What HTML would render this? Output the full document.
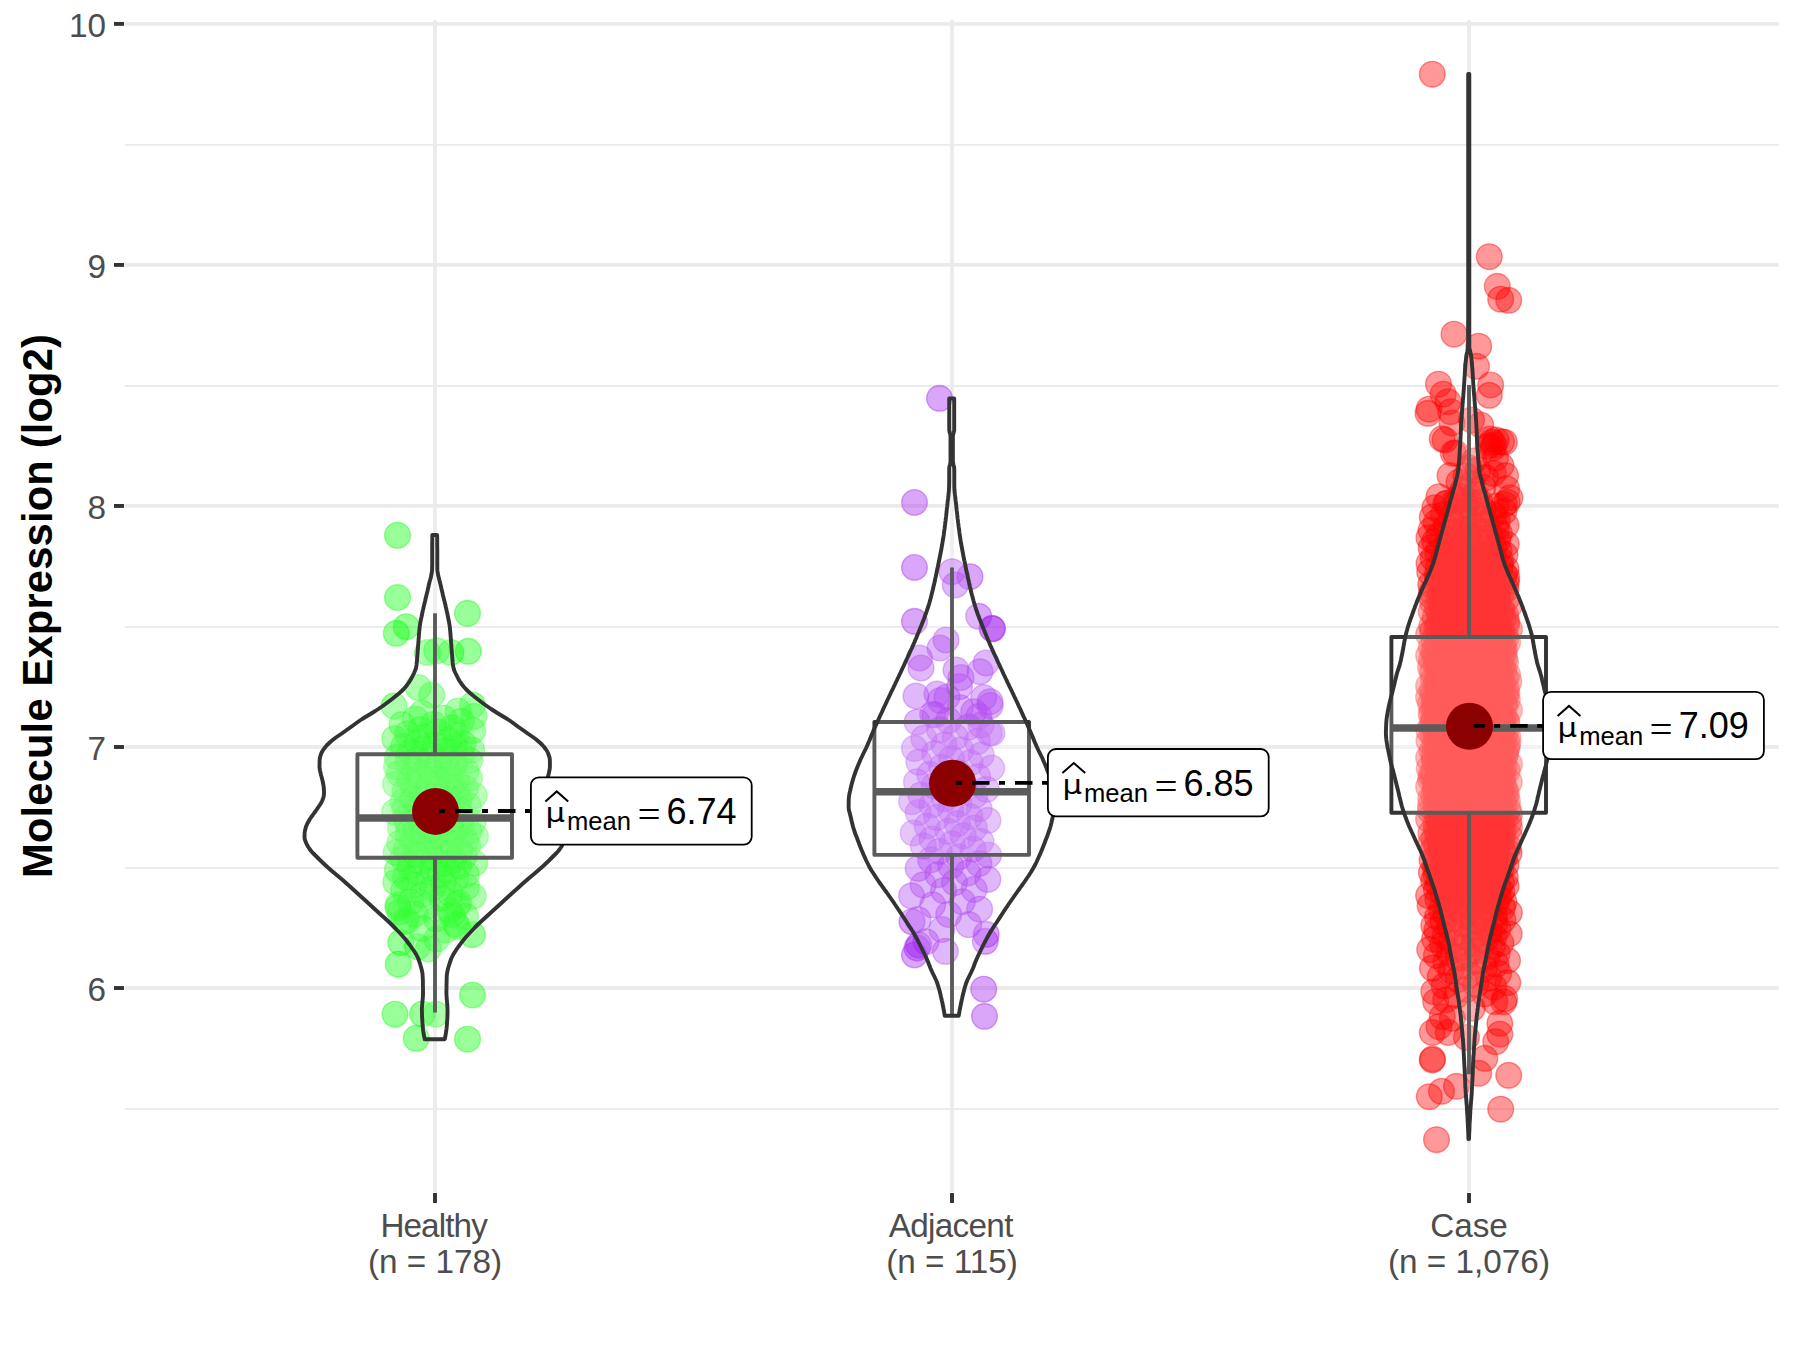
<!DOCTYPE html>
<html lang="en"><head><meta charset="utf-8"><title>Molecule Expression (log2)</title>
<style>html,body{margin:0;padding:0;background:#fff}body{width:1800px;height:1350px;overflow:hidden}svg{display:block}text{font-family:"Liberation Sans",Arial,sans-serif}.ax{font-size:33.3px;fill:#4d4d4d}.lb{font-size:36px;fill:#000}.sub{font-size:25.6px;fill:#000}.mu{font-size:26.7px;fill:#000;font-family:"DejaVu Sans","Liberation Sans",sans-serif}.eq{font-size:41px;fill:#000;font-family:"Liberation Serif",serif}.ttl{font-size:41.7px;font-weight:bold;fill:#000}.g0{fill:#00ff00;stroke:#00ff00}.g1{fill:#a020f0;stroke:#a020f0}.g2{fill:#ff0000;stroke:#ff0000}.pt circle{fill-opacity:.4;stroke-opacity:.4;stroke-width:1.4}</style></head><body>
<svg width="1800" height="1350" viewBox="0 0 1800 1350">
<rect width="1800" height="1350" fill="#fff"/>
<g stroke="#ebebeb" fill="none">
<line x1="124.7" x2="1778.8" y1="1109.04" y2="1109.04" stroke-width="1.9"/>
<line x1="124.7" x2="1778.8" y1="868.00" y2="868.00" stroke-width="1.9"/>
<line x1="124.7" x2="1778.8" y1="626.98" y2="626.98" stroke-width="1.9"/>
<line x1="124.7" x2="1778.8" y1="385.94" y2="385.94" stroke-width="1.9"/>
<line x1="124.7" x2="1778.8" y1="144.91" y2="144.91" stroke-width="1.9"/>
<line x1="124.7" x2="1778.8" y1="988.02" y2="988.02" stroke-width="3.8"/>
<line x1="124.7" x2="1778.8" y1="746.99" y2="746.99" stroke-width="3.8"/>
<line x1="124.7" x2="1778.8" y1="505.96" y2="505.96" stroke-width="3.8"/>
<line x1="124.7" x2="1778.8" y1="264.93" y2="264.93" stroke-width="3.8"/>
<line x1="124.7" x2="1778.8" y1="23.90" y2="23.90" stroke-width="3.8"/>
<line x1="435.0" x2="435.0" y1="20.0" y2="1192.0" stroke-width="3.8"/>
<line x1="952.0" x2="952.0" y1="20.0" y2="1192.0" stroke-width="3.8"/>
<line x1="1469.0" x2="1469.0" y1="20.0" y2="1192.0" stroke-width="3.8"/>
</g>
<g class="pt g0">
<circle cx="458.2" cy="809.1" r="12.85"/><circle cx="458.8" cy="902.9" r="12.85"/><circle cx="410.8" cy="752.0" r="12.85"/><circle cx="417.7" cy="759.2" r="12.85"/><circle cx="407.9" cy="762.5" r="12.85"/><circle cx="413.9" cy="769.0" r="12.85"/><circle cx="409.7" cy="780.5" r="12.85"/><circle cx="433.5" cy="857.6" r="12.85"/><circle cx="408.2" cy="833.4" r="12.85"/><circle cx="424.8" cy="793.2" r="12.85"/><circle cx="457.5" cy="926.4" r="12.85"/><circle cx="428.0" cy="766.0" r="12.85"/><circle cx="443.7" cy="718.2" r="12.85"/><circle cx="413.8" cy="884.8" r="12.85"/><circle cx="459.2" cy="799.2" r="12.85"/><circle cx="405.5" cy="877.2" r="12.85"/><circle cx="407.6" cy="733.7" r="12.85"/><circle cx="405.3" cy="817.8" r="12.85"/><circle cx="420.8" cy="729.6" r="12.85"/><circle cx="431.5" cy="841.4" r="12.85"/><circle cx="395.5" cy="784.2" r="12.85"/><circle cx="462.5" cy="816.3" r="12.85"/><circle cx="446.0" cy="854.0" r="12.85"/><circle cx="461.2" cy="825.0" r="12.85"/><circle cx="421.9" cy="713.4" r="12.85"/><circle cx="430.1" cy="771.8" r="12.85"/><circle cx="426.1" cy="906.4" r="12.85"/><circle cx="456.6" cy="792.1" r="12.85"/><circle cx="403.7" cy="890.4" r="12.85"/><circle cx="464.1" cy="856.2" r="12.85"/><circle cx="468.3" cy="805.7" r="12.85"/><circle cx="438.3" cy="779.1" r="12.85"/><circle cx="406.7" cy="921.4" r="12.85"/><circle cx="422.1" cy="835.5" r="12.85"/><circle cx="469.8" cy="760.5" r="12.85"/><circle cx="413.7" cy="786.7" r="12.85"/><circle cx="396.1" cy="852.4" r="12.85"/><circle cx="420.7" cy="861.6" r="12.85"/><circle cx="474.4" cy="795.5" r="12.85"/><circle cx="446.9" cy="768.2" r="12.85"/><circle cx="432.5" cy="888.3" r="12.85"/><circle cx="441.8" cy="823.1" r="12.85"/><circle cx="397.3" cy="757.1" r="12.85"/><circle cx="469.5" cy="778.0" r="12.85"/><circle cx="399.8" cy="843.1" r="12.85"/><circle cx="416.6" cy="804.0" r="12.85"/><circle cx="416.5" cy="872.3" r="12.85"/><circle cx="449.4" cy="910.2" r="12.85"/><circle cx="416.6" cy="814.4" r="12.85"/><circle cx="472.8" cy="730.7" r="12.85"/><circle cx="428.4" cy="811.4" r="12.85"/><circle cx="468.9" cy="831.4" r="12.85"/><circle cx="449.9" cy="893.5" r="12.85"/><circle cx="428.9" cy="782.9" r="12.85"/><circle cx="430.9" cy="755.2" r="12.85"/><circle cx="454.1" cy="764.0" r="12.85"/><circle cx="410.7" cy="901.8" r="12.85"/><circle cx="441.1" cy="796.3" r="12.85"/><circle cx="473.1" cy="896.2" r="12.85"/><circle cx="422.6" cy="821.2" r="12.85"/><circle cx="456.4" cy="735.2" r="12.85"/><circle cx="449.0" cy="775.4" r="12.85"/><circle cx="466.4" cy="886.8" r="12.85"/><circle cx="442.5" cy="898.2" r="12.85"/><circle cx="422.8" cy="894.7" r="12.85"/><circle cx="402.0" cy="724.6" r="12.85"/><circle cx="442.3" cy="838.6" r="12.85"/><circle cx="432.9" cy="800.6" r="12.85"/><circle cx="433.6" cy="724.3" r="12.85"/><circle cx="447.9" cy="813.6" r="12.85"/><circle cx="397.4" cy="869.9" r="12.85"/><circle cx="432.0" cy="868.4" r="12.85"/><circle cx="444.6" cy="750.7" r="12.85"/><circle cx="422.0" cy="928.4" r="12.85"/><circle cx="423.7" cy="748.1" r="12.85"/><circle cx="416.6" cy="830.5" r="12.85"/><circle cx="412.5" cy="798.4" r="12.85"/><circle cx="394.7" cy="738.7" r="12.85"/><circle cx="472.3" cy="934.7" r="12.85"/><circle cx="403.0" cy="802.0" r="12.85"/><circle cx="461.7" cy="754.0" r="12.85"/><circle cx="442.7" cy="863.4" r="12.85"/><circle cx="447.3" cy="870.4" r="12.85"/><circle cx="474.0" cy="716.3" r="12.85"/><circle cx="398.0" cy="907.7" r="12.85"/><circle cx="428.0" cy="880.2" r="12.85"/><circle cx="443.2" cy="883.1" r="12.85"/><circle cx="405.0" cy="790.8" r="12.85"/><circle cx="406.4" cy="849.2" r="12.85"/><circle cx="435.2" cy="744.6" r="12.85"/><circle cx="421.3" cy="845.0" r="12.85"/><circle cx="448.5" cy="786.1" r="12.85"/><circle cx="463.1" cy="743.5" r="12.85"/><circle cx="439.2" cy="761.5" r="12.85"/><circle cx="458.8" cy="866.0" r="12.85"/><circle cx="448.8" cy="740.2" r="12.85"/><circle cx="438.3" cy="789.0" r="12.85"/><circle cx="446.5" cy="758.1" r="12.85"/><circle cx="394.6" cy="811.8" r="12.85"/><circle cx="415.4" cy="719.1" r="12.85"/><circle cx="474.6" cy="863.1" r="12.85"/><circle cx="452.3" cy="803.3" r="12.85"/><circle cx="456.4" cy="781.0" r="12.85"/><circle cx="453.8" cy="859.9" r="12.85"/><circle cx="424.6" cy="737.1" r="12.85"/><circle cx="465.7" cy="840.5" r="12.85"/><circle cx="435.5" cy="817.2" r="12.85"/><circle cx="466.1" cy="874.4" r="12.85"/><circle cx="430.2" cy="827.1" r="12.85"/><circle cx="465.5" cy="916.3" r="12.85"/><circle cx="475.4" cy="836.4" r="12.85"/><circle cx="471.6" cy="750.1" r="12.85"/><circle cx="436.3" cy="918.8" r="12.85"/><circle cx="451.0" cy="843.4" r="12.85"/><circle cx="438.8" cy="847.0" r="12.85"/><circle cx="472.9" cy="822.3" r="12.85"/><circle cx="438.9" cy="832.4" r="12.85"/><circle cx="453.7" cy="834.6" r="12.85"/><circle cx="419.6" cy="776.2" r="12.85"/><circle cx="437.3" cy="806.7" r="12.85"/><circle cx="459.5" cy="850.1" r="12.85"/><circle cx="429.7" cy="851.0" r="12.85"/><circle cx="413.5" cy="839.3" r="12.85"/><circle cx="400.5" cy="827.8" r="12.85"/><circle cx="410.2" cy="865.9" r="12.85"/><circle cx="461.2" cy="721.3" r="12.85"/><circle cx="399.2" cy="773.3" r="12.85"/><circle cx="416.1" cy="854.6" r="12.85"/><circle cx="403.6" cy="746.5" r="12.85"/><circle cx="455.7" cy="879.1" r="12.85"/><circle cx="417.5" cy="742.3" r="12.85"/><circle cx="407.9" cy="823.8" r="12.85"/><circle cx="465.4" cy="788.4" r="12.85"/><circle cx="466.2" cy="771.4" r="12.85"/><circle cx="467.9" cy="845.7" r="12.85"/><circle cx="438.1" cy="732.1" r="12.85"/><circle cx="451.2" cy="819.9" r="12.85"/><circle cx="454.2" cy="746.8" r="12.85"/><circle cx="450.3" cy="828.5" r="12.85"/><circle cx="452.2" cy="727.9" r="12.85"/><circle cx="396.5" cy="766.6" r="12.85"/><circle cx="415.1" cy="913.9" r="12.85"/><circle cx="405.2" cy="808.2" r="12.85"/><circle cx="395.8" cy="882.2" r="12.85"/><circle cx="440.2" cy="874.7" r="12.85"/><circle cx="403.1" cy="858.4" r="12.85"/><circle cx="397.5" cy="535.3" r="12.85"/><circle cx="397.5" cy="597.5" r="12.85"/><circle cx="467.5" cy="613.3" r="12.85"/><circle cx="406.3" cy="626.7" r="12.85"/><circle cx="396.3" cy="633.3" r="12.85"/><circle cx="427.5" cy="652.5" r="12.85"/><circle cx="436.7" cy="650.8" r="12.85"/><circle cx="450.8" cy="652.5" r="12.85"/><circle cx="468.3" cy="651.3" r="12.85"/><circle cx="418.3" cy="687.5" r="12.85"/><circle cx="431.7" cy="695.0" r="12.85"/><circle cx="394.0" cy="706.0" r="12.85"/><circle cx="472.5" cy="705.0" r="12.85"/><circle cx="458.0" cy="711.0" r="12.85"/><circle cx="398.3" cy="964.2" r="12.85"/><circle cx="472.5" cy="995.0" r="12.85"/><circle cx="395.0" cy="1014.2" r="12.85"/><circle cx="422.5" cy="1014.0" r="12.85"/><circle cx="435.8" cy="1014.2" r="12.85"/><circle cx="416.3" cy="1038.3" r="12.85"/><circle cx="467.5" cy="1039.2" r="12.85"/><circle cx="400.8" cy="942.5" r="12.85"/><circle cx="417.5" cy="946.7" r="12.85"/><circle cx="428.3" cy="949.0" r="12.85"/><circle cx="436.7" cy="939.0" r="12.85"/><circle cx="455.8" cy="924.0" r="12.85"/><circle cx="398.0" cy="905.0" r="12.85"/><circle cx="400.0" cy="912.0" r="12.85"/><circle cx="404.0" cy="921.0" r="12.85"/><circle cx="452.0" cy="915.0" r="12.85"/><circle cx="457.0" cy="905.0" r="12.85"/><circle cx="446.0" cy="930.0" r="12.85"/>
</g>
<g class="pt g1">
<circle cx="989.3" cy="732.9" r="12.85"/><circle cx="958.8" cy="856.8" r="12.85"/><circle cx="960.8" cy="749.9" r="12.85"/><circle cx="920.8" cy="795.1" r="12.85"/><circle cx="979.6" cy="909.2" r="12.85"/><circle cx="978.8" cy="716.4" r="12.85"/><circle cx="968.3" cy="727.1" r="12.85"/><circle cx="932.7" cy="714.3" r="12.85"/><circle cx="957.3" cy="823.6" r="12.85"/><circle cx="958.7" cy="773.0" r="12.85"/><circle cx="914.5" cy="748.4" r="12.85"/><circle cx="948.5" cy="720.6" r="12.85"/><circle cx="911.6" cy="801.6" r="12.85"/><circle cx="948.1" cy="831.3" r="12.85"/><circle cx="964.3" cy="784.9" r="12.85"/><circle cx="946.3" cy="779.9" r="12.85"/><circle cx="974.1" cy="889.4" r="12.85"/><circle cx="952.2" cy="843.8" r="12.85"/><circle cx="980.9" cy="841.3" r="12.85"/><circle cx="977.7" cy="776.7" r="12.85"/><circle cx="967.9" cy="872.9" r="12.85"/><circle cx="950.7" cy="865.9" r="12.85"/><circle cx="934.2" cy="785.8" r="12.85"/><circle cx="941.7" cy="767.2" r="12.85"/><circle cx="950.7" cy="810.2" r="12.85"/><circle cx="954.5" cy="882.6" r="12.85"/><circle cx="987.9" cy="820.4" r="12.85"/><circle cx="948.7" cy="914.5" r="12.85"/><circle cx="931.9" cy="805.0" r="12.85"/><circle cx="918.1" cy="919.6" r="12.85"/><circle cx="917.1" cy="722.2" r="12.85"/><circle cx="981.3" cy="755.1" r="12.85"/><circle cx="951.5" cy="758.8" r="12.85"/><circle cx="932.1" cy="839.0" r="12.85"/><circle cx="986.2" cy="934.4" r="12.85"/><circle cx="973.0" cy="849.0" r="12.85"/><circle cx="986.4" cy="789.4" r="12.85"/><circle cx="969.7" cy="816.6" r="12.85"/><circle cx="977.4" cy="741.4" r="12.85"/><circle cx="979.2" cy="808.7" r="12.85"/><circle cx="929.6" cy="774.3" r="12.85"/><circle cx="940.3" cy="700.5" r="12.85"/><circle cx="923.8" cy="738.4" r="12.85"/><circle cx="959.0" cy="803.8" r="12.85"/><circle cx="930.7" cy="859.9" r="12.85"/><circle cx="974.4" cy="828.1" r="12.85"/><circle cx="918.9" cy="762.1" r="12.85"/><circle cx="974.8" cy="795.4" r="12.85"/><circle cx="927.1" cy="826.0" r="12.85"/><circle cx="918.2" cy="868.4" r="12.85"/><circle cx="916.5" cy="781.9" r="12.85"/><circle cx="956.0" cy="791.8" r="12.85"/><circle cx="913.2" cy="833.0" r="12.85"/><circle cx="970.2" cy="762.9" r="12.85"/><circle cx="963.3" cy="835.9" r="12.85"/><circle cx="937.9" cy="874.7" r="12.85"/><circle cx="941.9" cy="929.5" r="12.85"/><circle cx="955.3" cy="737.0" r="12.85"/><circle cx="934.7" cy="753.6" r="12.85"/><circle cx="911.6" cy="895.8" r="12.85"/><circle cx="939.0" cy="851.3" r="12.85"/><circle cx="936.6" cy="817.4" r="12.85"/><circle cx="978.9" cy="863.6" r="12.85"/><circle cx="943.6" cy="890.6" r="12.85"/><circle cx="939.7" cy="730.0" r="12.85"/><circle cx="923.4" cy="845.9" r="12.85"/><circle cx="932.7" cy="904.8" r="12.85"/><circle cx="918.2" cy="812.5" r="12.85"/><circle cx="944.5" cy="798.8" r="12.85"/><circle cx="991.7" cy="768.0" r="12.85"/><circle cx="990.2" cy="705.6" r="12.85"/><circle cx="923.1" cy="884.9" r="12.85"/><circle cx="988.6" cy="855.0" r="12.85"/><circle cx="962.3" cy="901.7" r="12.85"/><circle cx="987.8" cy="879.4" r="12.85"/><circle cx="960.2" cy="707.7" r="12.85"/><circle cx="968.7" cy="924.6" r="12.85"/><circle cx="944.2" cy="745.1" r="12.85"/><circle cx="939.5" cy="398.3" r="12.85"/><circle cx="914.5" cy="502.5" r="12.85"/><circle cx="914.5" cy="567.5" r="12.85"/><circle cx="952.0" cy="571.7" r="12.85"/><circle cx="970.0" cy="576.7" r="12.85"/><circle cx="955.3" cy="585.0" r="12.85"/><circle cx="914.5" cy="621.3" r="12.85"/><circle cx="978.7" cy="616.3" r="12.85"/><circle cx="992.0" cy="628.3" r="12.85"/><circle cx="992.5" cy="628.8" r="12.85"/><circle cx="946.0" cy="640.0" r="12.85"/><circle cx="940.0" cy="648.0" r="12.85"/><circle cx="919.5" cy="658.0" r="12.85"/><circle cx="921.0" cy="668.0" r="12.85"/><circle cx="956.0" cy="670.0" r="12.85"/><circle cx="961.0" cy="677.5" r="12.85"/><circle cx="959.5" cy="686.7" r="12.85"/><circle cx="980.0" cy="671.7" r="12.85"/><circle cx="986.0" cy="663.0" r="12.85"/><circle cx="916.0" cy="696.0" r="12.85"/><circle cx="937.0" cy="694.0" r="12.85"/><circle cx="947.0" cy="697.0" r="12.85"/><circle cx="983.7" cy="697.5" r="12.85"/><circle cx="990.0" cy="701.7" r="12.85"/><circle cx="973.7" cy="711.7" r="12.85"/><circle cx="935.0" cy="715.0" r="12.85"/><circle cx="981.0" cy="725.0" r="12.85"/><circle cx="992.0" cy="733.0" r="12.85"/><circle cx="983.7" cy="989.2" r="12.85"/><circle cx="984.5" cy="1016.3" r="12.85"/><circle cx="945.3" cy="951.3" r="12.85"/><circle cx="985.3" cy="941.3" r="12.85"/><circle cx="914.5" cy="955.0" r="12.85"/><circle cx="917.0" cy="948.0" r="12.85"/><circle cx="918.7" cy="945.0" r="12.85"/><circle cx="926.0" cy="941.7" r="12.85"/><circle cx="912.0" cy="921.7" r="12.85"/>
</g>
<g class="pt g2">
<circle cx="1435.5" cy="791.1" r="12.85"/><circle cx="1486.7" cy="732.6" r="12.85"/><circle cx="1452.8" cy="684.1" r="12.85"/><circle cx="1487.2" cy="845.5" r="12.85"/><circle cx="1484.5" cy="940.1" r="12.85"/><circle cx="1463.2" cy="947.7" r="12.85"/><circle cx="1477.9" cy="682.2" r="12.85"/><circle cx="1487.9" cy="796.0" r="12.85"/><circle cx="1458.2" cy="500.7" r="12.85"/><circle cx="1482.6" cy="724.8" r="12.85"/><circle cx="1456.5" cy="720.2" r="12.85"/><circle cx="1505.6" cy="615.2" r="12.85"/><circle cx="1464.5" cy="832.9" r="12.85"/><circle cx="1497.9" cy="928.5" r="12.85"/><circle cx="1460.0" cy="753.2" r="12.85"/><circle cx="1445.1" cy="936.1" r="12.85"/><circle cx="1442.6" cy="733.7" r="12.85"/><circle cx="1453.0" cy="825.2" r="12.85"/><circle cx="1442.3" cy="600.5" r="12.85"/><circle cx="1439.9" cy="841.1" r="12.85"/><circle cx="1476.9" cy="503.0" r="12.85"/><circle cx="1439.2" cy="774.0" r="12.85"/><circle cx="1442.1" cy="673.7" r="12.85"/><circle cx="1460.1" cy="911.6" r="12.85"/><circle cx="1451.5" cy="739.0" r="12.85"/><circle cx="1449.7" cy="718.7" r="12.85"/><circle cx="1496.1" cy="607.1" r="12.85"/><circle cx="1445.8" cy="731.3" r="12.85"/><circle cx="1461.0" cy="674.5" r="12.85"/><circle cx="1444.6" cy="797.4" r="12.85"/><circle cx="1468.9" cy="869.8" r="12.85"/><circle cx="1437.2" cy="742.3" r="12.85"/><circle cx="1456.0" cy="891.3" r="12.85"/><circle cx="1467.5" cy="954.6" r="12.85"/><circle cx="1509.1" cy="853.1" r="12.85"/><circle cx="1458.8" cy="801.0" r="12.85"/><circle cx="1479.9" cy="791.6" r="12.85"/><circle cx="1430.5" cy="667.5" r="12.85"/><circle cx="1470.5" cy="702.4" r="12.85"/><circle cx="1439.1" cy="598.1" r="12.85"/><circle cx="1459.8" cy="576.7" r="12.85"/><circle cx="1500.9" cy="943.1" r="12.85"/><circle cx="1456.0" cy="932.7" r="12.85"/><circle cx="1441.5" cy="778.6" r="12.85"/><circle cx="1492.8" cy="756.8" r="12.85"/><circle cx="1502.0" cy="698.1" r="12.85"/><circle cx="1501.8" cy="780.6" r="12.85"/><circle cx="1489.0" cy="931.7" r="12.85"/><circle cx="1451.1" cy="970.6" r="12.85"/><circle cx="1497.9" cy="540.5" r="12.85"/><circle cx="1448.3" cy="802.2" r="12.85"/><circle cx="1468.3" cy="787.9" r="12.85"/><circle cx="1498.0" cy="838.2" r="12.85"/><circle cx="1506.1" cy="885.9" r="12.85"/><circle cx="1503.5" cy="785.0" r="12.85"/><circle cx="1504.8" cy="706.4" r="12.85"/><circle cx="1433.6" cy="652.2" r="12.85"/><circle cx="1494.1" cy="667.0" r="12.85"/><circle cx="1448.5" cy="721.2" r="12.85"/><circle cx="1485.0" cy="863.5" r="12.85"/><circle cx="1455.6" cy="629.1" r="12.85"/><circle cx="1485.0" cy="766.2" r="12.85"/><circle cx="1462.1" cy="895.0" r="12.85"/><circle cx="1461.6" cy="690.1" r="12.85"/><circle cx="1495.4" cy="776.3" r="12.85"/><circle cx="1448.9" cy="758.3" r="12.85"/><circle cx="1506.8" cy="577.4" r="12.85"/><circle cx="1482.7" cy="751.3" r="12.85"/><circle cx="1460.7" cy="605.2" r="12.85"/><circle cx="1468.4" cy="883.5" r="12.85"/><circle cx="1465.4" cy="656.7" r="12.85"/><circle cx="1438.2" cy="884.3" r="12.85"/><circle cx="1479.4" cy="602.3" r="12.85"/><circle cx="1449.6" cy="828.6" r="12.85"/><circle cx="1458.0" cy="979.4" r="12.85"/><circle cx="1474.2" cy="887.0" r="12.85"/><circle cx="1491.3" cy="646.8" r="12.85"/><circle cx="1484.4" cy="559.1" r="12.85"/><circle cx="1477.6" cy="843.4" r="12.85"/><circle cx="1462.2" cy="634.1" r="12.85"/><circle cx="1467.1" cy="776.6" r="12.85"/><circle cx="1496.9" cy="754.4" r="12.85"/><circle cx="1449.8" cy="565.0" r="12.85"/><circle cx="1438.1" cy="709.2" r="12.85"/><circle cx="1449.4" cy="697.7" r="12.85"/><circle cx="1438.4" cy="719.7" r="12.85"/><circle cx="1440.9" cy="739.8" r="12.85"/><circle cx="1432.3" cy="516.9" r="12.85"/><circle cx="1464.6" cy="915.9" r="12.85"/><circle cx="1462.5" cy="734.3" r="12.85"/><circle cx="1491.0" cy="884.8" r="12.85"/><circle cx="1495.0" cy="922.8" r="12.85"/><circle cx="1505.1" cy="755.9" r="12.85"/><circle cx="1434.9" cy="507.7" r="12.85"/><circle cx="1494.6" cy="664.1" r="12.85"/><circle cx="1456.3" cy="770.6" r="12.85"/><circle cx="1466.8" cy="664.4" r="12.85"/><circle cx="1468.7" cy="627.6" r="12.85"/><circle cx="1456.5" cy="808.6" r="12.85"/><circle cx="1482.2" cy="660.3" r="12.85"/><circle cx="1443.2" cy="646.3" r="12.85"/><circle cx="1462.0" cy="654.8" r="12.85"/><circle cx="1505.5" cy="662.8" r="12.85"/><circle cx="1432.1" cy="860.3" r="12.85"/><circle cx="1483.9" cy="676.9" r="12.85"/><circle cx="1482.3" cy="881.1" r="12.85"/><circle cx="1451.5" cy="627.0" r="12.85"/><circle cx="1437.1" cy="575.5" r="12.85"/><circle cx="1485.9" cy="684.0" r="12.85"/><circle cx="1470.5" cy="669.1" r="12.85"/><circle cx="1488.3" cy="830.2" r="12.85"/><circle cx="1484.8" cy="644.7" r="12.85"/><circle cx="1436.4" cy="829.9" r="12.85"/><circle cx="1509.4" cy="912.7" r="12.85"/><circle cx="1483.7" cy="598.9" r="12.85"/><circle cx="1467.5" cy="741.9" r="12.85"/><circle cx="1450.4" cy="573.6" r="12.85"/><circle cx="1451.5" cy="839.8" r="12.85"/><circle cx="1445.8" cy="717.1" r="12.85"/><circle cx="1454.8" cy="722.6" r="12.85"/><circle cx="1430.5" cy="806.2" r="12.85"/><circle cx="1483.5" cy="580.8" r="12.85"/><circle cx="1439.2" cy="669.2" r="12.85"/><circle cx="1480.2" cy="849.8" r="12.85"/><circle cx="1499.3" cy="752.0" r="12.85"/><circle cx="1506.4" cy="688.8" r="12.85"/><circle cx="1495.9" cy="506.0" r="12.85"/><circle cx="1458.5" cy="685.9" r="12.85"/><circle cx="1436.5" cy="863.1" r="12.85"/><circle cx="1462.3" cy="671.6" r="12.85"/><circle cx="1470.0" cy="785.2" r="12.85"/><circle cx="1479.9" cy="811.3" r="12.85"/><circle cx="1507.5" cy="960.5" r="12.85"/><circle cx="1489.6" cy="636.9" r="12.85"/><circle cx="1481.5" cy="626.6" r="12.85"/><circle cx="1470.5" cy="909.0" r="12.85"/><circle cx="1459.7" cy="703.4" r="12.85"/><circle cx="1504.7" cy="998.6" r="12.85"/><circle cx="1432.5" cy="672.2" r="12.85"/><circle cx="1498.1" cy="812.1" r="12.85"/><circle cx="1490.3" cy="736.2" r="12.85"/><circle cx="1481.4" cy="518.7" r="12.85"/><circle cx="1486.4" cy="816.2" r="12.85"/><circle cx="1437.4" cy="608.1" r="12.85"/><circle cx="1504.7" cy="658.1" r="12.85"/><circle cx="1491.4" cy="841.9" r="12.85"/><circle cx="1453.8" cy="868.5" r="12.85"/><circle cx="1429.7" cy="572.1" r="12.85"/><circle cx="1440.9" cy="594.4" r="12.85"/><circle cx="1484.6" cy="749.0" r="12.85"/><circle cx="1438.8" cy="681.0" r="12.85"/><circle cx="1474.8" cy="737.3" r="12.85"/><circle cx="1474.7" cy="658.6" r="12.85"/><circle cx="1442.9" cy="702.9" r="12.85"/><circle cx="1437.1" cy="808.2" r="12.85"/><circle cx="1477.4" cy="620.9" r="12.85"/><circle cx="1493.7" cy="546.5" r="12.85"/><circle cx="1456.8" cy="657.7" r="12.85"/><circle cx="1428.6" cy="697.2" r="12.85"/><circle cx="1468.0" cy="541.1" r="12.85"/><circle cx="1483.3" cy="705.6" r="12.85"/><circle cx="1450.5" cy="621.7" r="12.85"/><circle cx="1474.4" cy="801.8" r="12.85"/><circle cx="1460.1" cy="642.1" r="12.85"/><circle cx="1491.2" cy="692.3" r="12.85"/><circle cx="1428.6" cy="819.2" r="12.85"/><circle cx="1432.8" cy="734.6" r="12.85"/><circle cx="1462.9" cy="607.5" r="12.85"/><circle cx="1466.2" cy="874.7" r="12.85"/><circle cx="1454.8" cy="876.5" r="12.85"/><circle cx="1479.3" cy="704.2" r="12.85"/><circle cx="1462.2" cy="790.7" r="12.85"/><circle cx="1474.8" cy="589.4" r="12.85"/><circle cx="1448.9" cy="643.2" r="12.85"/><circle cx="1474.5" cy="756.4" r="12.85"/><circle cx="1459.3" cy="707.6" r="12.85"/><circle cx="1493.9" cy="987.1" r="12.85"/><circle cx="1469.6" cy="725.6" r="12.85"/><circle cx="1429.0" cy="730.6" r="12.85"/><circle cx="1463.4" cy="880.1" r="12.85"/><circle cx="1464.8" cy="631.0" r="12.85"/><circle cx="1507.8" cy="982.6" r="12.85"/><circle cx="1448.0" cy="680.0" r="12.85"/><circle cx="1496.4" cy="528.3" r="12.85"/><circle cx="1493.7" cy="514.9" r="12.85"/><circle cx="1463.4" cy="611.3" r="12.85"/><circle cx="1443.0" cy="870.8" r="12.85"/><circle cx="1471.5" cy="834.9" r="12.85"/><circle cx="1472.5" cy="773.9" r="12.85"/><circle cx="1508.2" cy="846.8" r="12.85"/><circle cx="1489.9" cy="742.6" r="12.85"/><circle cx="1469.1" cy="574.9" r="12.85"/><circle cx="1451.7" cy="691.0" r="12.85"/><circle cx="1431.0" cy="530.3" r="12.85"/><circle cx="1481.1" cy="572.7" r="12.85"/><circle cx="1476.1" cy="865.4" r="12.85"/><circle cx="1477.7" cy="564.5" r="12.85"/><circle cx="1493.7" cy="638.6" r="12.85"/><circle cx="1472.3" cy="696.1" r="12.85"/><circle cx="1434.5" cy="939.1" r="12.85"/><circle cx="1456.6" cy="995.4" r="12.85"/><circle cx="1441.5" cy="604.2" r="12.85"/><circle cx="1469.4" cy="603.9" r="12.85"/><circle cx="1493.1" cy="556.6" r="12.85"/><circle cx="1448.7" cy="538.8" r="12.85"/><circle cx="1452.7" cy="608.8" r="12.85"/><circle cx="1466.2" cy="651.9" r="12.85"/><circle cx="1445.9" cy="527.6" r="12.85"/><circle cx="1442.5" cy="713.4" r="12.85"/><circle cx="1444.2" cy="561.7" r="12.85"/><circle cx="1472.7" cy="666.0" r="12.85"/><circle cx="1432.4" cy="968.1" r="12.85"/><circle cx="1466.0" cy="758.9" r="12.85"/><circle cx="1500.5" cy="787.8" r="12.85"/><circle cx="1495.8" cy="622.0" r="12.85"/><circle cx="1432.7" cy="631.3" r="12.85"/><circle cx="1432.2" cy="690.5" r="12.85"/><circle cx="1482.8" cy="784.2" r="12.85"/><circle cx="1489.3" cy="688.2" r="12.85"/><circle cx="1484.3" cy="868.0" r="12.85"/><circle cx="1479.3" cy="612.3" r="12.85"/><circle cx="1457.0" cy="726.6" r="12.85"/><circle cx="1509.4" cy="629.2" r="12.85"/><circle cx="1472.6" cy="739.6" r="12.85"/><circle cx="1461.6" cy="667.3" r="12.85"/><circle cx="1507.4" cy="801.4" r="12.85"/><circle cx="1430.1" cy="905.8" r="12.85"/><circle cx="1505.3" cy="796.8" r="12.85"/><circle cx="1449.0" cy="854.3" r="12.85"/><circle cx="1462.8" cy="595.1" r="12.85"/><circle cx="1509.4" cy="813.9" r="12.85"/><circle cx="1493.9" cy="936.8" r="12.85"/><circle cx="1451.3" cy="612.7" r="12.85"/><circle cx="1449.0" cy="887.7" r="12.85"/><circle cx="1488.7" cy="899.8" r="12.85"/><circle cx="1483.0" cy="631.7" r="12.85"/><circle cx="1490.2" cy="535.7" r="12.85"/><circle cx="1497.0" cy="790.5" r="12.85"/><circle cx="1459.2" cy="798.2" r="12.85"/><circle cx="1460.7" cy="730.3" r="12.85"/><circle cx="1480.6" cy="652.5" r="12.85"/><circle cx="1497.6" cy="597.2" r="12.85"/><circle cx="1428.6" cy="655.5" r="12.85"/><circle cx="1439.5" cy="613.7" r="12.85"/><circle cx="1465.4" cy="721.8" r="12.85"/><circle cx="1436.1" cy="875.4" r="12.85"/><circle cx="1472.3" cy="851.0" r="12.85"/><circle cx="1496.0" cy="964.3" r="12.85"/><circle cx="1468.2" cy="765.6" r="12.85"/><circle cx="1438.2" cy="692.0" r="12.85"/><circle cx="1479.2" cy="837.4" r="12.85"/><circle cx="1488.4" cy="910.7" r="12.85"/><circle cx="1429.0" cy="740.9" r="12.85"/><circle cx="1486.9" cy="856.4" r="12.85"/><circle cx="1473.2" cy="717.0" r="12.85"/><circle cx="1480.0" cy="734.9" r="12.85"/><circle cx="1507.8" cy="736.9" r="12.85"/><circle cx="1485.1" cy="664.9" r="12.85"/><circle cx="1490.6" cy="786.1" r="12.85"/><circle cx="1444.8" cy="706.7" r="12.85"/><circle cx="1477.0" cy="809.4" r="12.85"/><circle cx="1443.4" cy="866.1" r="12.85"/><circle cx="1502.6" cy="719.0" r="12.85"/><circle cx="1496.1" cy="848.3" r="12.85"/><circle cx="1502.8" cy="760.2" r="12.85"/><circle cx="1444.2" cy="985.8" r="12.85"/><circle cx="1506.0" cy="864.7" r="12.85"/><circle cx="1506.3" cy="544.2" r="12.85"/><circle cx="1472.2" cy="661.6" r="12.85"/><circle cx="1502.4" cy="799.5" r="12.85"/><circle cx="1465.7" cy="597.5" r="12.85"/><circle cx="1450.4" cy="635.1" r="12.85"/><circle cx="1481.7" cy="824.8" r="12.85"/><circle cx="1435.5" cy="788.5" r="12.85"/><circle cx="1472.9" cy="678.0" r="12.85"/><circle cx="1497.4" cy="520.5" r="12.85"/><circle cx="1447.6" cy="714.9" r="12.85"/><circle cx="1451.5" cy="804.1" r="12.85"/><circle cx="1490.3" cy="709.5" r="12.85"/><circle cx="1507.8" cy="743.1" r="12.85"/><circle cx="1455.4" cy="712.4" r="12.85"/><circle cx="1432.5" cy="602.2" r="12.85"/><circle cx="1498.1" cy="802.6" r="12.85"/><circle cx="1449.4" cy="806.9" r="12.85"/><circle cx="1496.4" cy="651.5" r="12.85"/><circle cx="1434.0" cy="639.6" r="12.85"/><circle cx="1453.9" cy="745.3" r="12.85"/><circle cx="1431.1" cy="547.9" r="12.85"/><circle cx="1437.9" cy="552.1" r="12.85"/><circle cx="1464.2" cy="579.4" r="12.85"/><circle cx="1503.7" cy="729.0" r="12.85"/><circle cx="1470.6" cy="723.2" r="12.85"/><circle cx="1473.5" cy="778.0" r="12.85"/><circle cx="1507.4" cy="699.8" r="12.85"/><circle cx="1438.1" cy="567.0" r="12.85"/><circle cx="1439.3" cy="654.3" r="12.85"/><circle cx="1451.2" cy="816.7" r="12.85"/><circle cx="1477.0" cy="675.0" r="12.85"/><circle cx="1456.1" cy="836.2" r="12.85"/><circle cx="1456.9" cy="813.8" r="12.85"/><circle cx="1505.1" cy="789.4" r="12.85"/><circle cx="1452.1" cy="919.2" r="12.85"/><circle cx="1450.5" cy="708.5" r="12.85"/><circle cx="1495.9" cy="643.8" r="12.85"/><circle cx="1443.6" cy="570.3" r="12.85"/><circle cx="1457.1" cy="805.6" r="12.85"/><circle cx="1501.9" cy="609.3" r="12.85"/><circle cx="1509.4" cy="710.3" r="12.85"/><circle cx="1489.8" cy="781.5" r="12.85"/><circle cx="1501.6" cy="680.3" r="12.85"/><circle cx="1446.9" cy="656.1" r="12.85"/><circle cx="1443.4" cy="682.7" r="12.85"/><circle cx="1456.2" cy="846.0" r="12.85"/><circle cx="1477.1" cy="689.3" r="12.85"/><circle cx="1433.8" cy="838.9" r="12.85"/><circle cx="1441.9" cy="610.2" r="12.85"/><circle cx="1500.4" cy="792.0" r="12.85"/><circle cx="1506.7" cy="624.1" r="12.85"/><circle cx="1468.6" cy="676.0" r="12.85"/><circle cx="1501.0" cy="665.6" r="12.85"/><circle cx="1447.9" cy="747.7" r="12.85"/><circle cx="1468.6" cy="687.7" r="12.85"/><circle cx="1436.7" cy="930.4" r="12.85"/><circle cx="1464.0" cy="924.4" r="12.85"/><circle cx="1452.7" cy="751.6" r="12.85"/><circle cx="1490.7" cy="818.5" r="12.85"/><circle cx="1507.5" cy="674.7" r="12.85"/><circle cx="1502.1" cy="862.0" r="12.85"/><circle cx="1435.6" cy="803.3" r="12.85"/><circle cx="1500.6" cy="560.5" r="12.85"/><circle cx="1446.9" cy="754.0" r="12.85"/><circle cx="1473.0" cy="526.8" r="12.85"/><circle cx="1430.7" cy="584.7" r="12.85"/><circle cx="1495.1" cy="711.2" r="12.85"/><circle cx="1479.9" cy="764.6" r="12.85"/><circle cx="1477.9" cy="650.9" r="12.85"/><circle cx="1445.0" cy="723.4" r="12.85"/><circle cx="1496.3" cy="855.0" r="12.85"/><circle cx="1459.1" cy="662.4" r="12.85"/><circle cx="1463.4" cy="711.5" r="12.85"/><circle cx="1478.6" cy="596.2" r="12.85"/><circle cx="1444.6" cy="760.5" r="12.85"/><circle cx="1439.1" cy="685.2" r="12.85"/><circle cx="1484.6" cy="716.1" r="12.85"/><circle cx="1444.3" cy="555.9" r="12.85"/><circle cx="1505.0" cy="817.3" r="12.85"/><circle cx="1433.0" cy="557.8" r="12.85"/><circle cx="1492.1" cy="879.4" r="12.85"/><circle cx="1490.3" cy="740.0" r="12.85"/><circle cx="1449.4" cy="701.9" r="12.85"/><circle cx="1450.7" cy="725.1" r="12.85"/><circle cx="1454.5" cy="773.3" r="12.85"/><circle cx="1470.3" cy="792.6" r="12.85"/><circle cx="1443.6" cy="606.5" r="12.85"/><circle cx="1465.4" cy="571.6" r="12.85"/><circle cx="1428.9" cy="537.7" r="12.85"/><circle cx="1471.5" cy="624.5" r="12.85"/><circle cx="1456.5" cy="543.3" r="12.85"/><circle cx="1465.5" cy="738.0" r="12.85"/><circle cx="1487.5" cy="813.3" r="12.85"/><circle cx="1498.9" cy="747.9" r="12.85"/><circle cx="1458.9" cy="818.9" r="12.85"/><circle cx="1481.5" cy="548.8" r="12.85"/><circle cx="1446.5" cy="787.4" r="12.85"/><circle cx="1483.0" cy="711.9" r="12.85"/><circle cx="1430.6" cy="779.5" r="12.85"/><circle cx="1479.3" cy="639.8" r="12.85"/><circle cx="1483.8" cy="918.5" r="12.85"/><circle cx="1445.3" cy="578.6" r="12.85"/><circle cx="1497.1" cy="795.0" r="12.85"/><circle cx="1447.1" cy="799.4" r="12.85"/><circle cx="1503.6" cy="670.3" r="12.85"/><circle cx="1468.9" cy="975.1" r="12.85"/><circle cx="1438.0" cy="899.5" r="12.85"/><circle cx="1461.8" cy="761.4" r="12.85"/><circle cx="1445.8" cy="832.0" r="12.85"/><circle cx="1490.0" cy="633.7" r="12.85"/><circle cx="1505.9" cy="589.3" r="12.85"/><circle cx="1433.6" cy="694.8" r="12.85"/><circle cx="1433.2" cy="772.4" r="12.85"/><circle cx="1437.5" cy="916.9" r="12.85"/><circle cx="1455.0" cy="709.9" r="12.85"/><circle cx="1485.0" cy="906.9" r="12.85"/><circle cx="1492.4" cy="946.3" r="12.85"/><circle cx="1451.8" cy="881.8" r="12.85"/><circle cx="1434.1" cy="755.0" r="12.85"/><circle cx="1451.5" cy="819.8" r="12.85"/><circle cx="1446.2" cy="663.8" r="12.85"/><circle cx="1506.5" cy="794.0" r="12.85"/><circle cx="1438.3" cy="732.1" r="12.85"/><circle cx="1470.8" cy="673.4" r="12.85"/><circle cx="1501.4" cy="825.5" r="12.85"/><circle cx="1499.1" cy="627.5" r="12.85"/><circle cx="1463.7" cy="866.8" r="12.85"/><circle cx="1489.4" cy="770.1" r="12.85"/><circle cx="1479.2" cy="667.8" r="12.85"/><circle cx="1488.6" cy="669.8" r="12.85"/><circle cx="1483.3" cy="925.9" r="12.85"/><circle cx="1494.7" cy="858.9" r="12.85"/><circle cx="1461.0" cy="746.7" r="12.85"/><circle cx="1484.6" cy="672.4" r="12.85"/><circle cx="1484.6" cy="993.8" r="12.85"/><circle cx="1444.3" cy="670.9" r="12.85"/><circle cx="1506.4" cy="582.0" r="12.85"/><circle cx="1435.0" cy="705.4" r="12.85"/><circle cx="1480.0" cy="577.9" r="12.85"/><circle cx="1493.6" cy="783.1" r="12.85"/><circle cx="1486.0" cy="772.8" r="12.85"/><circle cx="1509.4" cy="836.7" r="12.85"/><circle cx="1488.6" cy="978.2" r="12.85"/><circle cx="1447.4" cy="615.9" r="12.85"/><circle cx="1483.0" cy="509.7" r="12.85"/><circle cx="1491.0" cy="685.5" r="12.85"/><circle cx="1504.5" cy="574.5" r="12.85"/><circle cx="1480.5" cy="741.1" r="12.85"/><circle cx="1488.3" cy="805.5" r="12.85"/><circle cx="1437.8" cy="587.5" r="12.85"/><circle cx="1472.3" cy="892.3" r="12.85"/><circle cx="1503.4" cy="645.5" r="12.85"/><circle cx="1480.8" cy="634.9" r="12.85"/><circle cx="1457.7" cy="743.0" r="12.85"/><circle cx="1466.8" cy="754.9" r="12.85"/><circle cx="1431.4" cy="872.5" r="12.85"/><circle cx="1458.8" cy="670.0" r="12.85"/><circle cx="1478.7" cy="754.0" r="12.85"/><circle cx="1491.2" cy="797.7" r="12.85"/><circle cx="1487.5" cy="587.8" r="12.85"/><circle cx="1500.6" cy="741.6" r="12.85"/><circle cx="1490.5" cy="649.7" r="12.85"/><circle cx="1437.4" cy="855.6" r="12.85"/><circle cx="1451.3" cy="850.2" r="12.85"/><circle cx="1457.5" cy="553.8" r="12.85"/><circle cx="1436.3" cy="664.7" r="12.85"/><circle cx="1466.4" cy="683.1" r="12.85"/><circle cx="1434.6" cy="761.8" r="12.85"/><circle cx="1477.4" cy="775.5" r="12.85"/><circle cx="1437.5" cy="661.9" r="12.85"/><circle cx="1454.4" cy="653.2" r="12.85"/><circle cx="1445.8" cy="962.4" r="12.85"/><circle cx="1480.6" cy="714.5" r="12.85"/><circle cx="1494.3" cy="815.1" r="12.85"/><circle cx="1437.2" cy="752.7" r="12.85"/><circle cx="1481.2" cy="728.7" r="12.85"/><circle cx="1453.5" cy="900.9" r="12.85"/><circle cx="1440.2" cy="582.8" r="12.85"/><circle cx="1495.9" cy="671.4" r="12.85"/><circle cx="1478.9" cy="819.6" r="12.85"/><circle cx="1501.7" cy="840.4" r="12.85"/><circle cx="1445.7" cy="503.7" r="12.85"/><circle cx="1437.9" cy="835.3" r="12.85"/><circle cx="1479.8" cy="710.5" r="12.85"/><circle cx="1498.1" cy="687.3" r="12.85"/><circle cx="1442.4" cy="700.2" r="12.85"/><circle cx="1485.6" cy="726.1" r="12.85"/><circle cx="1493.5" cy="733.9" r="12.85"/><circle cx="1457.7" cy="749.3" r="12.85"/><circle cx="1439.1" cy="769.8" r="12.85"/><circle cx="1466.0" cy="888.8" r="12.85"/><circle cx="1441.9" cy="847.5" r="12.85"/><circle cx="1440.1" cy="826.5" r="12.85"/><circle cx="1496.2" cy="721.2" r="12.85"/><circle cx="1453.7" cy="599.3" r="12.85"/><circle cx="1508.0" cy="809.2" r="12.85"/><circle cx="1468.6" cy="731.7" r="12.85"/><circle cx="1466.3" cy="622.2" r="12.85"/><circle cx="1436.8" cy="644.6" r="12.85"/><circle cx="1468.3" cy="719.2" r="12.85"/><circle cx="1492.3" cy="654.4" r="12.85"/><circle cx="1449.0" cy="952.3" r="12.85"/><circle cx="1433.5" cy="722.0" r="12.85"/><circle cx="1477.5" cy="757.8" r="12.85"/><circle cx="1460.1" cy="563.3" r="12.85"/><circle cx="1458.0" cy="842.4" r="12.85"/><circle cx="1471.1" cy="898.8" r="12.85"/><circle cx="1466.8" cy="937.7" r="12.85"/><circle cx="1461.3" cy="616.9" r="12.85"/><circle cx="1489.4" cy="719.8" r="12.85"/><circle cx="1440.3" cy="976.5" r="12.85"/><circle cx="1443.3" cy="818.0" r="12.85"/><circle cx="1503.5" cy="716.6" r="12.85"/><circle cx="1436.2" cy="522.6" r="12.85"/><circle cx="1431.2" cy="595.7" r="12.85"/><circle cx="1472.8" cy="512.6" r="12.85"/><circle cx="1506.5" cy="620.9" r="12.85"/><circle cx="1474.1" cy="943.5" r="12.85"/><circle cx="1509.2" cy="933.9" r="12.85"/><circle cx="1484.9" cy="690.9" r="12.85"/><circle cx="1465.7" cy="529.5" r="12.85"/><circle cx="1453.1" cy="791.7" r="12.85"/><circle cx="1498.1" cy="675.9" r="12.85"/><circle cx="1470.9" cy="826.0" r="12.85"/><circle cx="1474.3" cy="767.0" r="12.85"/><circle cx="1497.4" cy="874.2" r="12.85"/><circle cx="1493.3" cy="871.3" r="12.85"/><circle cx="1434.7" cy="728.2" r="12.85"/><circle cx="1442.8" cy="892.9" r="12.85"/><circle cx="1450.9" cy="896.7" r="12.85"/><circle cx="1459.6" cy="736.6" r="12.85"/><circle cx="1433.7" cy="776.8" r="12.85"/><circle cx="1430.7" cy="798.6" r="12.85"/><circle cx="1446.1" cy="764.8" r="12.85"/><circle cx="1484.4" cy="839.5" r="12.85"/><circle cx="1474.5" cy="831.6" r="12.85"/><circle cx="1464.0" cy="659.8" r="12.85"/><circle cx="1504.2" cy="726.6" r="12.85"/><circle cx="1474.8" cy="797.2" r="12.85"/><circle cx="1436.4" cy="889.5" r="12.85"/><circle cx="1465.1" cy="829.5" r="12.85"/><circle cx="1478.8" cy="799.1" r="12.85"/><circle cx="1489.0" cy="662.3" r="12.85"/><circle cx="1483.6" cy="779.9" r="12.85"/><circle cx="1443.3" cy="922.1" r="12.85"/><circle cx="1474.7" cy="934.5" r="12.85"/><circle cx="1450.2" cy="660.6" r="12.85"/><circle cx="1437.9" cy="765.7" r="12.85"/><circle cx="1504.0" cy="511.4" r="12.85"/><circle cx="1468.5" cy="855.4" r="12.85"/><circle cx="1462.2" cy="601.3" r="12.85"/><circle cx="1461.0" cy="547.3" r="12.85"/><circle cx="1467.4" cy="704.9" r="12.85"/><circle cx="1505.4" cy="753.5" r="12.85"/><circle cx="1452.4" cy="766.5" r="12.85"/><circle cx="1459.9" cy="779.2" r="12.85"/><circle cx="1481.2" cy="896.6" r="12.85"/><circle cx="1477.0" cy="670.7" r="12.85"/><circle cx="1478.6" cy="697.5" r="12.85"/><circle cx="1483.0" cy="718.5" r="12.85"/><circle cx="1460.6" cy="872.0" r="12.85"/><circle cx="1457.2" cy="614.7" r="12.85"/><circle cx="1435.2" cy="617.2" r="12.85"/><circle cx="1430.5" cy="811.0" r="12.85"/><circle cx="1442.7" cy="944.8" r="12.85"/><circle cx="1471.9" cy="928.9" r="12.85"/><circle cx="1472.0" cy="582.7" r="12.85"/><circle cx="1458.9" cy="757.1" r="12.85"/><circle cx="1464.5" cy="639.2" r="12.85"/><circle cx="1488.5" cy="808.4" r="12.85"/><circle cx="1497.1" cy="953.3" r="12.85"/><circle cx="1466.5" cy="506.6" r="12.85"/><circle cx="1456.5" cy="645.1" r="12.85"/><circle cx="1471.5" cy="878.0" r="12.85"/><circle cx="1441.2" cy="735.9" r="12.85"/><circle cx="1499.3" cy="668.7" r="12.85"/><circle cx="1500.5" cy="673.3" r="12.85"/><circle cx="1469.8" cy="698.4" r="12.85"/><circle cx="1430.8" cy="833.1" r="12.85"/><circle cx="1493.1" cy="583.6" r="12.85"/><circle cx="1455.8" cy="732.7" r="12.85"/><circle cx="1499.0" cy="550.3" r="12.85"/><circle cx="1428.6" cy="895.6" r="12.85"/><circle cx="1500.9" cy="869.2" r="12.85"/><circle cx="1446.1" cy="771.6" r="12.85"/><circle cx="1445.5" cy="794.7" r="12.85"/><circle cx="1466.1" cy="905.4" r="12.85"/><circle cx="1502.4" cy="778.0" r="12.85"/><circle cx="1491.2" cy="761.0" r="12.85"/><circle cx="1465.7" cy="700.9" r="12.85"/><circle cx="1505.5" cy="733.1" r="12.85"/><circle cx="1504.3" cy="857.2" r="12.85"/><circle cx="1469.8" cy="521.0" r="12.85"/><circle cx="1507.6" cy="642.6" r="12.85"/><circle cx="1491.8" cy="604.7" r="12.85"/><circle cx="1502.2" cy="769.3" r="12.85"/><circle cx="1455.8" cy="510.7" r="12.85"/><circle cx="1490.8" cy="707.1" r="12.85"/><circle cx="1472.6" cy="706.6" r="12.85"/><circle cx="1478.8" cy="720.9" r="12.85"/><circle cx="1445.7" cy="686.8" r="12.85"/><circle cx="1447.0" cy="727.4" r="12.85"/><circle cx="1464.6" cy="965.9" r="12.85"/><circle cx="1467.8" cy="643.9" r="12.85"/><circle cx="1501.6" cy="820.3" r="12.85"/><circle cx="1445.6" cy="625.0" r="12.85"/><circle cx="1438.4" cy="748.5" r="12.85"/><circle cx="1465.7" cy="769.7" r="12.85"/><circle cx="1457.5" cy="620.2" r="12.85"/><circle cx="1433.6" cy="880.4" r="12.85"/><circle cx="1457.1" cy="649.9" r="12.85"/><circle cx="1509.4" cy="764.1" r="12.85"/><circle cx="1458.9" cy="697.0" r="12.85"/><circle cx="1480.7" cy="647.7" r="12.85"/><circle cx="1474.2" cy="771.2" r="12.85"/><circle cx="1487.9" cy="851.9" r="12.85"/><circle cx="1507.3" cy="770.8" r="12.85"/><circle cx="1506.4" cy="720.5" r="12.85"/><circle cx="1449.4" cy="668.1" r="12.85"/><circle cx="1498.3" cy="579.1" r="12.85"/><circle cx="1478.6" cy="822.8" r="12.85"/><circle cx="1462.1" cy="740.4" r="12.85"/><circle cx="1432.3" cy="711.8" r="12.85"/><circle cx="1489.6" cy="562.6" r="12.85"/><circle cx="1469.2" cy="641.0" r="12.85"/><circle cx="1446.2" cy="737.3" r="12.85"/><circle cx="1492.3" cy="810.1" r="12.85"/><circle cx="1436.2" cy="683.5" r="12.85"/><circle cx="1503.0" cy="831.2" r="12.85"/><circle cx="1474.8" cy="560.7" r="12.85"/><circle cx="1478.4" cy="913.5" r="12.85"/><circle cx="1469.5" cy="820.8" r="12.85"/><circle cx="1460.7" cy="885.0" r="12.85"/><circle cx="1479.0" cy="629.9" r="12.85"/><circle cx="1443.7" cy="790.0" r="12.85"/><circle cx="1490.0" cy="614.1" r="12.85"/><circle cx="1452.2" cy="755.7" r="12.85"/><circle cx="1438.0" cy="698.6" r="12.85"/><circle cx="1498.5" cy="603.5" r="12.85"/><circle cx="1464.2" cy="838.8" r="12.85"/><circle cx="1435.2" cy="744.7" r="12.85"/><circle cx="1500.8" cy="715.1" r="12.85"/><circle cx="1476.3" cy="730.9" r="12.85"/><circle cx="1503.6" cy="804.3" r="12.85"/><circle cx="1443.5" cy="514.5" r="12.85"/><circle cx="1498.7" cy="973.4" r="12.85"/><circle cx="1500.2" cy="712.7" r="12.85"/><circle cx="1481.7" cy="608.4" r="12.85"/><circle cx="1494.0" cy="570.8" r="12.85"/><circle cx="1487.2" cy="835.9" r="12.85"/><circle cx="1501.1" cy="691.5" r="12.85"/><circle cx="1482.7" cy="623.2" r="12.85"/><circle cx="1479.6" cy="828.0" r="12.85"/><circle cx="1495.1" cy="678.4" r="12.85"/><circle cx="1506.8" cy="722.7" r="12.85"/><circle cx="1449.8" cy="926.6" r="12.85"/><circle cx="1494.0" cy="682.9" r="12.85"/><circle cx="1460.5" cy="774.7" r="12.85"/><circle cx="1461.7" cy="678.9" r="12.85"/><circle cx="1460.7" cy="852.6" r="12.85"/><circle cx="1494.2" cy="696.7" r="12.85"/><circle cx="1455.5" cy="692.6" r="12.85"/><circle cx="1462.2" cy="591.3" r="12.85"/><circle cx="1461.7" cy="584.3" r="12.85"/><circle cx="1431.8" cy="626.0" r="12.85"/><circle cx="1476.4" cy="570.1" r="12.85"/><circle cx="1431.8" cy="591.9" r="12.85"/><circle cx="1447.9" cy="596.8" r="12.85"/><circle cx="1459.4" cy="781.8" r="12.85"/><circle cx="1429.3" cy="768.2" r="12.85"/><circle cx="1445.0" cy="630.0" r="12.85"/><circle cx="1492.5" cy="659.2" r="12.85"/><circle cx="1466.5" cy="823.8" r="12.85"/><circle cx="1454.0" cy="640.3" r="12.85"/><circle cx="1492.5" cy="727.6" r="12.85"/><circle cx="1458.7" cy="864.1" r="12.85"/><circle cx="1466.8" cy="783.4" r="12.85"/><circle cx="1429.0" cy="563.4" r="12.85"/><circle cx="1471.0" cy="593.7" r="12.85"/><circle cx="1495.0" cy="625.1" r="12.85"/><circle cx="1505.5" cy="695.5" r="12.85"/><circle cx="1445.1" cy="837.7" r="12.85"/><circle cx="1485.3" cy="722.2" r="12.85"/><circle cx="1443.2" cy="666.6" r="12.85"/><circle cx="1484.1" cy="777.0" r="12.85"/><circle cx="1459.8" cy="767.9" r="12.85"/><circle cx="1487.4" cy="763.6" r="12.85"/><circle cx="1499.2" cy="762.7" r="12.85"/><circle cx="1498.5" cy="897.7" r="12.85"/><circle cx="1480.1" cy="872.9" r="12.85"/><circle cx="1433.8" cy="795.7" r="12.85"/><circle cx="1480.2" cy="708.0" r="12.85"/><circle cx="1448.0" cy="735.0" r="12.85"/><circle cx="1458.4" cy="763.7" r="12.85"/><circle cx="1500.1" cy="731.6" r="12.85"/><circle cx="1495.2" cy="832.4" r="12.85"/><circle cx="1436.0" cy="781.3" r="12.85"/><circle cx="1478.8" cy="853.9" r="12.85"/><circle cx="1438.6" cy="622.8" r="12.85"/><circle cx="1503.9" cy="901.8" r="12.85"/><circle cx="1493.0" cy="700.6" r="12.85"/><circle cx="1488.2" cy="681.1" r="12.85"/><circle cx="1478.2" cy="655.8" r="12.85"/><circle cx="1463.5" cy="848.4" r="12.85"/><circle cx="1497.1" cy="758.6" r="12.85"/><circle cx="1446.3" cy="710.7" r="12.85"/><circle cx="1468.9" cy="587.0" r="12.85"/><circle cx="1464.2" cy="815.7" r="12.85"/><circle cx="1447.6" cy="675.7" r="12.85"/><circle cx="1448.1" cy="769.0" r="12.85"/><circle cx="1486.2" cy="523.9" r="12.85"/><circle cx="1434.5" cy="541.5" r="12.85"/><circle cx="1501.0" cy="661.2" r="12.85"/><circle cx="1455.7" cy="821.9" r="12.85"/><circle cx="1434.3" cy="759.0" r="12.85"/><circle cx="1498.5" cy="737.7" r="12.85"/><circle cx="1444.5" cy="823.1" r="12.85"/><circle cx="1488.5" cy="713.5" r="12.85"/><circle cx="1465.2" cy="795.4" r="12.85"/><circle cx="1479.7" cy="787.0" r="12.85"/><circle cx="1469.5" cy="566.2" r="12.85"/><circle cx="1468.0" cy="557.1" r="12.85"/><circle cx="1473.2" cy="638.0" r="12.85"/><circle cx="1435.3" cy="867.6" r="12.85"/><circle cx="1442.7" cy="619.3" r="12.85"/><circle cx="1443.5" cy="689.4" r="12.85"/><circle cx="1503.0" cy="920.1" r="12.85"/><circle cx="1474.7" cy="646.1" r="12.85"/><circle cx="1450.7" cy="549.6" r="12.85"/><circle cx="1444.4" cy="678.1" r="12.85"/><circle cx="1456.9" cy="716.3" r="12.85"/><circle cx="1475.9" cy="733.2" r="12.85"/><circle cx="1455.8" cy="581.2" r="12.85"/><circle cx="1483.7" cy="657.4" r="12.85"/><circle cx="1428.6" cy="686.1" r="12.85"/><circle cx="1496.9" cy="630.4" r="12.85"/><circle cx="1457.8" cy="699.5" r="12.85"/><circle cx="1476.7" cy="902.7" r="12.85"/><circle cx="1437.0" cy="628.1" r="12.85"/><circle cx="1469.3" cy="807.7" r="12.85"/><circle cx="1462.1" cy="810.6" r="12.85"/><circle cx="1448.6" cy="873.5" r="12.85"/><circle cx="1433.5" cy="679.3" r="12.85"/><circle cx="1440.7" cy="793.0" r="12.85"/><circle cx="1474.7" cy="760.4" r="12.85"/><circle cx="1506.2" cy="749.5" r="12.85"/><circle cx="1471.9" cy="691.8" r="12.85"/><circle cx="1477.4" cy="789.9" r="12.85"/><circle cx="1491.3" cy="767.8" r="12.85"/><circle cx="1455.1" cy="588.7" r="12.85"/><circle cx="1456.0" cy="665.6" r="12.85"/><circle cx="1448.3" cy="843.7" r="12.85"/><circle cx="1485.9" cy="800.8" r="12.85"/><circle cx="1471.5" cy="649.0" r="12.85"/><circle cx="1433.9" cy="701.2" r="12.85"/><circle cx="1440.8" cy="813.1" r="12.85"/><circle cx="1477.7" cy="538.3" r="12.85"/><circle cx="1429.7" cy="949.6" r="12.85"/><circle cx="1454.5" cy="524.1" r="12.85"/><circle cx="1508.8" cy="681.8" r="12.85"/><circle cx="1487.7" cy="699.0" r="12.85"/><circle cx="1506.8" cy="693.0" r="12.85"/><circle cx="1442.8" cy="878.8" r="12.85"/><circle cx="1469.7" cy="804.8" r="12.85"/><circle cx="1466.1" cy="715.3" r="12.85"/><circle cx="1505.9" cy="637.5" r="12.85"/><circle cx="1452.5" cy="559.5" r="12.85"/><circle cx="1501.1" cy="593.0" r="12.85"/><circle cx="1493.1" cy="774.7" r="12.85"/><circle cx="1490.4" cy="750.4" r="12.85"/><circle cx="1450.5" cy="784.7" r="12.85"/><circle cx="1509.3" cy="782.2" r="12.85"/><circle cx="1441.3" cy="909.7" r="12.85"/><circle cx="1481.7" cy="860.7" r="12.85"/><circle cx="1471.9" cy="762.8" r="12.85"/><circle cx="1459.5" cy="750.6" r="12.85"/><circle cx="1447.3" cy="648.2" r="12.85"/><circle cx="1431.2" cy="842.8" r="12.85"/><circle cx="1437.6" cy="816.1" r="12.85"/><circle cx="1457.9" cy="713.9" r="12.85"/><circle cx="1454.5" cy="568.5" r="12.85"/><circle cx="1442.1" cy="658.8" r="12.85"/><circle cx="1440.4" cy="696.1" r="12.85"/><circle cx="1474.2" cy="961.2" r="12.85"/><circle cx="1455.1" cy="695.4" r="12.85"/><circle cx="1456.0" cy="677.2" r="12.85"/><circle cx="1476.7" cy="847.0" r="12.85"/><circle cx="1487.2" cy="628.7" r="12.85"/><circle cx="1505.3" cy="877.2" r="12.85"/><circle cx="1430.5" cy="703.8" r="12.85"/><circle cx="1497.0" cy="590.4" r="12.85"/><circle cx="1471.6" cy="684.7" r="12.85"/><circle cx="1437.8" cy="676.5" r="12.85"/><circle cx="1499.8" cy="640.4" r="12.85"/><circle cx="1479.0" cy="814.5" r="12.85"/><circle cx="1453.3" cy="811.7" r="12.85"/><circle cx="1431.5" cy="660.0" r="12.85"/><circle cx="1449.7" cy="585.7" r="12.85"/><circle cx="1435.1" cy="649.3" r="12.85"/><circle cx="1428.6" cy="786.7" r="12.85"/><circle cx="1509.4" cy="605.6" r="12.85"/><circle cx="1484.4" cy="968.6" r="12.85"/><circle cx="1443.5" cy="782.8" r="12.85"/><circle cx="1431.3" cy="611.6" r="12.85"/><circle cx="1456.7" cy="777.6" r="12.85"/><circle cx="1501.4" cy="882.5" r="12.85"/><circle cx="1494.1" cy="765.1" r="12.85"/><circle cx="1457.9" cy="688.6" r="12.85"/><circle cx="1502.7" cy="773.4" r="12.85"/><circle cx="1483.8" cy="738.7" r="12.85"/><circle cx="1469.8" cy="800.1" r="12.85"/><circle cx="1469.9" cy="619.2" r="12.85"/><circle cx="1457.6" cy="536.8" r="12.85"/><circle cx="1469.5" cy="534.1" r="12.85"/><circle cx="1442.2" cy="767.2" r="12.85"/><circle cx="1462.5" cy="786.2" r="12.85"/><circle cx="1444.0" cy="633.1" r="12.85"/><circle cx="1435.1" cy="657.0" r="12.85"/><circle cx="1434.4" cy="707.6" r="12.85"/><circle cx="1474.8" cy="699.9" r="12.85"/><circle cx="1477.5" cy="643.0" r="12.85"/><circle cx="1509.4" cy="827.6" r="12.85"/><circle cx="1458.2" cy="957.9" r="12.85"/><circle cx="1489.2" cy="619.7" r="12.85"/><circle cx="1477.7" cy="768.8" r="12.85"/><circle cx="1504.6" cy="650.3" r="12.85"/><circle cx="1495.3" cy="903.9" r="12.85"/><circle cx="1441.6" cy="638.2" r="12.85"/><circle cx="1453.3" cy="603.0" r="12.85"/><circle cx="1479.5" cy="794.2" r="12.85"/><circle cx="1502.5" cy="908.0" r="12.85"/><circle cx="1472.4" cy="745.8" r="12.85"/><circle cx="1506.1" cy="569.1" r="12.85"/><circle cx="1438.1" cy="636.3" r="12.85"/><circle cx="1483.8" cy="803.6" r="12.85"/><circle cx="1500.5" cy="635.5" r="12.85"/><circle cx="1470.8" cy="841.1" r="12.85"/><circle cx="1450.4" cy="618.2" r="12.85"/><circle cx="1459.9" cy="625.8" r="12.85"/><circle cx="1493.0" cy="746.6" r="12.85"/><circle cx="1465.5" cy="844.7" r="12.85"/><circle cx="1445.9" cy="545.8" r="12.85"/><circle cx="1443.1" cy="785.6" r="12.85"/><circle cx="1496.2" cy="601.2" r="12.85"/><circle cx="1489.8" cy="788.8" r="12.85"/><circle cx="1454.5" cy="796.5" r="12.85"/><circle cx="1466.6" cy="744.4" r="12.85"/><circle cx="1433.8" cy="718.1" r="12.85"/><circle cx="1491.9" cy="641.7" r="12.85"/><circle cx="1488.5" cy="674.3" r="12.85"/><circle cx="1471.9" cy="752.4" r="12.85"/><circle cx="1461.6" cy="647.3" r="12.85"/><circle cx="1502.1" cy="745.7" r="12.85"/><circle cx="1471.5" cy="545.4" r="12.85"/><circle cx="1477.3" cy="950.9" r="12.85"/><circle cx="1441.5" cy="851.4" r="12.85"/><circle cx="1448.7" cy="704.3" r="12.85"/><circle cx="1439.1" cy="535.1" r="12.85"/><circle cx="1490.9" cy="703.1" r="12.85"/><circle cx="1502.4" cy="618.4" r="12.85"/><circle cx="1483.9" cy="617.9" r="12.85"/><circle cx="1453.4" cy="762.4" r="12.85"/><circle cx="1428.6" cy="634.5" r="12.85"/><circle cx="1431.2" cy="647.6" r="12.85"/><circle cx="1483.7" cy="745.1" r="12.85"/><circle cx="1498.5" cy="725.2" r="12.85"/><circle cx="1483.9" cy="755.3" r="12.85"/><circle cx="1502.0" cy="684.5" r="12.85"/><circle cx="1478.2" cy="727.2" r="12.85"/><circle cx="1472.6" cy="780.8" r="12.85"/><circle cx="1444.0" cy="858.4" r="12.85"/><circle cx="1504.3" cy="739.3" r="12.85"/><circle cx="1450.8" cy="519.0" r="12.85"/><circle cx="1495.4" cy="778.7" r="12.85"/><circle cx="1478.2" cy="806.5" r="12.85"/><circle cx="1499.4" cy="533.3" r="12.85"/><circle cx="1450.7" cy="775.9" r="12.85"/><circle cx="1467.8" cy="708.9" r="12.85"/><circle cx="1462.8" cy="694.5" r="12.85"/><circle cx="1435.4" cy="738.5" r="12.85"/><circle cx="1495.6" cy="704.8" r="12.85"/><circle cx="1457.4" cy="759.7" r="12.85"/><circle cx="1483.7" cy="591.9" r="12.85"/><circle cx="1452.6" cy="834.1" r="12.85"/><circle cx="1468.2" cy="551.0" r="12.85"/><circle cx="1463.4" cy="516.4" r="12.85"/><circle cx="1459.5" cy="859.4" r="12.85"/><circle cx="1464.3" cy="717.9" r="12.85"/><circle cx="1465.5" cy="772.3" r="12.85"/><circle cx="1487.1" cy="793.3" r="12.85"/><circle cx="1441.7" cy="805.1" r="12.85"/><circle cx="1454.7" cy="830.5" r="12.85"/><circle cx="1505.0" cy="554.7" r="12.85"/><circle cx="1428.6" cy="757.6" r="12.85"/><circle cx="1453.6" cy="623.6" r="12.85"/><circle cx="1498.3" cy="735.4" r="12.85"/><circle cx="1494.9" cy="656.2" r="12.85"/><circle cx="1455.2" cy="681.6" r="12.85"/><circle cx="1454.5" cy="637.1" r="12.85"/><circle cx="1431.1" cy="714.1" r="12.85"/><circle cx="1446.7" cy="743.8" r="12.85"/><circle cx="1491.9" cy="594.5" r="12.85"/><circle cx="1484.0" cy="531.6" r="12.85"/><circle cx="1498.7" cy="708.5" r="12.85"/><circle cx="1502.0" cy="834.5" r="12.85"/><circle cx="1500.5" cy="566.0" r="12.85"/><circle cx="1451.6" cy="592.6" r="12.85"/><circle cx="1474.5" cy="743.4" r="12.85"/><circle cx="1478.0" cy="615.8" r="12.85"/><circle cx="1502.5" cy="648.6" r="12.85"/><circle cx="1451.7" cy="780.3" r="12.85"/><circle cx="1501.9" cy="891.6" r="12.85"/><circle cx="1489.3" cy="610.7" r="12.85"/><circle cx="1495.4" cy="829.0" r="12.85"/><circle cx="1499.8" cy="586.4" r="12.85"/><circle cx="1507.2" cy="502.2" r="12.85"/><circle cx="1475.7" cy="984.3" r="12.85"/><circle cx="1491.0" cy="752.8" r="12.85"/><circle cx="1445.2" cy="693.6" r="12.85"/><circle cx="1499.2" cy="694.1" r="12.85"/><circle cx="1488.9" cy="826.7" r="12.85"/><circle cx="1446.9" cy="861.0" r="12.85"/><circle cx="1475.1" cy="600.3" r="12.85"/><circle cx="1493.9" cy="744.2" r="12.85"/><circle cx="1498.4" cy="888.2" r="12.85"/><circle cx="1485.0" cy="890.4" r="12.85"/><circle cx="1499.4" cy="844.1" r="12.85"/><circle cx="1452.8" cy="705.9" r="12.85"/><circle cx="1433.8" cy="925.4" r="12.85"/><circle cx="1436.4" cy="955.4" r="12.85"/><circle cx="1484.5" cy="876.3" r="12.85"/><circle cx="1472.6" cy="632.7" r="12.85"/><circle cx="1475.7" cy="606.1" r="12.85"/><circle cx="1467.3" cy="613.5" r="12.85"/><circle cx="1454.3" cy="532.0" r="12.85"/><circle cx="1468.2" cy="812.6" r="12.85"/><circle cx="1504.5" cy="702.2" r="12.85"/><circle cx="1432.1" cy="724.4" r="12.85"/><circle cx="1506.1" cy="525.3" r="12.85"/><circle cx="1503.5" cy="653.4" r="12.85"/><circle cx="1440.3" cy="725.7" r="12.85"/><circle cx="1457.3" cy="793.5" r="12.85"/><circle cx="1470.5" cy="635.9" r="12.85"/><circle cx="1505.3" cy="677.7" r="12.85"/><circle cx="1447.2" cy="903.3" r="12.85"/><circle cx="1495.8" cy="866.6" r="12.85"/><circle cx="1502.6" cy="850.6" r="12.85"/><circle cx="1482.4" cy="585.1" r="12.85"/><circle cx="1496.2" cy="771.9" r="12.85"/><circle cx="1484.8" cy="701.6" r="12.85"/><circle cx="1472.1" cy="817.8" r="12.85"/><circle cx="1473.7" cy="749.7" r="12.85"/><circle cx="1479.8" cy="833.7" r="12.85"/><circle cx="1493.8" cy="616.5" r="12.85"/><circle cx="1456.5" cy="827.1" r="12.85"/><circle cx="1435.0" cy="783.9" r="12.85"/><circle cx="1468.7" cy="862.3" r="12.85"/><circle cx="1453.5" cy="856.7" r="12.85"/><circle cx="1445.9" cy="914.4" r="12.85"/><circle cx="1455.9" cy="632.0" r="12.85"/><circle cx="1460.7" cy="724.0" r="12.85"/><circle cx="1479.8" cy="663.3" r="12.85"/><circle cx="1437.7" cy="800.3" r="12.85"/><circle cx="1467.1" cy="802.9" r="12.85"/><circle cx="1476.6" cy="555.0" r="12.85"/><circle cx="1495.4" cy="723.7" r="12.85"/><circle cx="1504.3" cy="766.7" r="12.85"/><circle cx="1484.1" cy="568.0" r="12.85"/><circle cx="1489.3" cy="575.9" r="12.85"/><circle cx="1485.6" cy="821.4" r="12.85"/><circle cx="1490.4" cy="552.7" r="12.85"/><circle cx="1449.0" cy="672.9" r="12.85"/><circle cx="1469.9" cy="610.0" r="12.85"/><circle cx="1473.8" cy="920.9" r="12.85"/><circle cx="1487.2" cy="542.8" r="12.85"/><circle cx="1474.0" cy="712.9" r="12.85"/><circle cx="1443.9" cy="590.0" r="12.85"/><circle cx="1495.6" cy="689.9" r="12.85"/><circle cx="1486.9" cy="957.0" r="12.85"/><circle cx="1464.4" cy="748.4" r="12.85"/><circle cx="1468.0" cy="735.6" r="12.85"/><circle cx="1446.2" cy="814.8" r="12.85"/><circle cx="1439.0" cy="821.3" r="12.85"/><circle cx="1437.6" cy="580.2" r="12.85"/><circle cx="1441.6" cy="641.4" r="12.85"/><circle cx="1470.7" cy="729.5" r="12.85"/><circle cx="1507.0" cy="747.2" r="12.85"/><circle cx="1431.1" cy="775.1" r="12.85"/><circle cx="1474.0" cy="653.7" r="12.85"/><circle cx="1447.7" cy="741.2" r="12.85"/><circle cx="1502.1" cy="632.4" r="12.85"/><circle cx="1454.1" cy="907.6" r="12.85"/><circle cx="1452.7" cy="728.7" r="12.85"/><circle cx="1478.3" cy="782.5" r="12.85"/><circle cx="1476.7" cy="747.4" r="12.85"/><circle cx="1506.4" cy="599.5" r="12.85"/><circle cx="1437.5" cy="687.9" r="12.85"/><circle cx="1475.5" cy="693.4" r="12.85"/><circle cx="1496.4" cy="823.7" r="12.85"/><circle cx="1444.7" cy="651.1" r="12.85"/><circle cx="1494.2" cy="717.5" r="12.85"/><circle cx="1436.0" cy="824.4" r="12.85"/><circle cx="1485.2" cy="695.1" r="12.85"/><circle cx="1493.6" cy="729.9" r="12.85"/><circle cx="1457.3" cy="789.2" r="12.85"/><circle cx="1442.1" cy="750.2" r="12.85"/><circle cx="1436.3" cy="845.0" r="12.85"/><circle cx="1451.8" cy="941.8" r="12.85"/><circle cx="1494.3" cy="915.8" r="12.85"/><circle cx="1508.9" cy="822.1" r="12.85"/><circle cx="1499.9" cy="807.1" r="12.85"/><circle cx="1433.4" cy="849.3" r="12.85"/><circle cx="1468.0" cy="680.5" r="12.85"/><circle cx="1441.0" cy="810.1" r="12.85"/><circle cx="1485.6" cy="759.3" r="12.85"/><circle cx="1465.8" cy="728.0" r="12.85"/><circle cx="1485.1" cy="762.0" r="12.85"/><circle cx="1501.0" cy="612.9" r="12.85"/><circle cx="1478.5" cy="686.6" r="12.85"/><circle cx="1437.9" cy="746.1" r="12.85"/><circle cx="1490.0" cy="893.7" r="12.85"/><circle cx="1471.3" cy="858.2" r="12.85"/><circle cx="1439.2" cy="763.1" r="12.85"/><circle cx="1466.8" cy="989.3" r="12.85"/><circle cx="1478.7" cy="679.6" r="12.85"/><circle cx="1433.8" cy="991.7" r="12.85"/><circle cx="1439.2" cy="756.5" r="12.85"/><circle cx="1431.9" cy="751.0" r="12.85"/><circle cx="1440.8" cy="729.7" r="12.85"/><circle cx="1436.5" cy="715.8" r="12.85"/><circle cx="1432.3" cy="74.2" r="12.85"/><circle cx="1489.3" cy="256.7" r="12.85"/><circle cx="1497.3" cy="286.3" r="12.85"/><circle cx="1500.7" cy="299.2" r="12.85"/><circle cx="1508.7" cy="300.3" r="12.85"/><circle cx="1454.0" cy="334.2" r="12.85"/><circle cx="1478.7" cy="346.2" r="12.85"/><circle cx="1476.5" cy="366.3" r="12.85"/><circle cx="1438.5" cy="384.2" r="12.85"/><circle cx="1490.7" cy="385.0" r="12.85"/><circle cx="1489.3" cy="395.3" r="12.85"/><circle cx="1443.2" cy="394.2" r="12.85"/><circle cx="1448.0" cy="401.7" r="12.85"/><circle cx="1429.0" cy="409.2" r="12.85"/><circle cx="1428.0" cy="413.3" r="12.85"/><circle cx="1450.7" cy="411.7" r="12.85"/><circle cx="1452.0" cy="423.0" r="12.85"/><circle cx="1471.5" cy="420.0" r="12.85"/><circle cx="1480.7" cy="425.0" r="12.85"/><circle cx="1445.0" cy="440.0" r="12.85"/><circle cx="1492.0" cy="442.0" r="12.85"/><circle cx="1490.0" cy="439.0" r="12.85"/><circle cx="1494.0" cy="445.0" r="12.85"/><circle cx="1488.0" cy="446.0" r="12.85"/><circle cx="1496.0" cy="440.0" r="12.85"/><circle cx="1493.0" cy="448.0" r="12.85"/><circle cx="1501.5" cy="441.7" r="12.85"/><circle cx="1455.7" cy="453.0" r="12.85"/><circle cx="1442.2" cy="438.9" r="12.85"/><circle cx="1453.3" cy="453.3" r="12.85"/><circle cx="1450.0" cy="475.6" r="12.85"/><circle cx="1438.9" cy="496.7" r="12.85"/><circle cx="1447.0" cy="503.0" r="12.85"/><circle cx="1504.4" cy="442.2" r="12.85"/><circle cx="1495.6" cy="457.8" r="12.85"/><circle cx="1501.0" cy="465.6" r="12.85"/><circle cx="1505.6" cy="475.6" r="12.85"/><circle cx="1493.3" cy="473.3" r="12.85"/><circle cx="1506.7" cy="488.9" r="12.85"/><circle cx="1510.0" cy="497.8" r="12.85"/><circle cx="1504.4" cy="504.4" r="12.85"/><circle cx="1485.6" cy="477.8" r="12.85"/><circle cx="1483.0" cy="487.0" r="12.85"/><circle cx="1469.0" cy="468.0" r="12.85"/><circle cx="1466.0" cy="476.0" r="12.85"/><circle cx="1472.0" cy="484.0" r="12.85"/><circle cx="1463.0" cy="490.0" r="12.85"/><circle cx="1475.0" cy="495.0" r="12.85"/><circle cx="1468.0" cy="500.0" r="12.85"/><circle cx="1459.0" cy="482.0" r="12.85"/><circle cx="1478.0" cy="470.0" r="12.85"/><circle cx="1461.0" cy="497.0" r="12.85"/><circle cx="1480.0" cy="502.0" r="12.85"/><circle cx="1456.0" cy="499.0" r="12.85"/><circle cx="1474.0" cy="461.0" r="12.85"/><circle cx="1436.5" cy="1139.7" r="12.85"/><circle cx="1500.7" cy="1109.2" r="12.85"/><circle cx="1429.3" cy="1096.7" r="12.85"/><circle cx="1441.5" cy="1091.3" r="12.85"/><circle cx="1456.5" cy="1086.3" r="12.85"/><circle cx="1508.7" cy="1075.3" r="12.85"/><circle cx="1478.7" cy="1073.3" r="12.85"/><circle cx="1484.8" cy="1058.3" r="12.85"/><circle cx="1432.3" cy="1060.0" r="12.85"/><circle cx="1432.5" cy="1059.0" r="12.85"/><circle cx="1495.7" cy="1041.7" r="12.85"/><circle cx="1499.8" cy="1034.2" r="12.85"/><circle cx="1499.8" cy="1023.3" r="12.85"/><circle cx="1466.5" cy="1037.5" r="12.85"/><circle cx="1432.3" cy="1032.5" r="12.85"/><circle cx="1439.0" cy="1026.7" r="12.85"/><circle cx="1448.2" cy="1032.5" r="12.85"/><circle cx="1442.3" cy="1016.7" r="12.85"/><circle cx="1452.3" cy="1018.3" r="12.85"/><circle cx="1435.7" cy="1001.7" r="12.85"/><circle cx="1445.7" cy="1000.0" r="12.85"/><circle cx="1494.8" cy="1001.7" r="12.85"/><circle cx="1503.7" cy="1002.0" r="12.85"/><circle cx="1472.3" cy="1008.3" r="12.85"/>
</g>
<g stroke="#333" stroke-width="3.9" fill="none">
<line x1="435.0" x2="435.0" y1="613.3" y2="754.2"/>
<line x1="435.0" x2="435.0" y1="857.8" y2="1012.5"/>
<rect x="357.4" y="754.2" width="154.6" height="103.6" fill="#fff" fill-opacity=".2" stroke-linejoin="round"/>
<line x1="357.4" x2="512.0" y1="818.0" y2="818.0" stroke-width="7.5"/>
<line x1="952.0" x2="952.0" y1="567.5" y2="722.0"/>
<line x1="952.0" x2="952.0" y1="854.9" y2="1015.0"/>
<rect x="874.4" y="722.0" width="154.6" height="132.9" fill="#fff" fill-opacity=".2" stroke-linejoin="round"/>
<line x1="874.4" x2="1029.0" y1="791.7" y2="791.7" stroke-width="7.5"/>
<line x1="1469.0" x2="1469.0" y1="385.0" y2="637.0"/>
<line x1="1469.0" x2="1469.0" y1="812.8" y2="1074.2"/>
<rect x="1391.4" y="637.0" width="154.6" height="175.8" fill="#fff" fill-opacity=".2" stroke-linejoin="round"/>
<line x1="1391.4" x2="1546.0" y1="728.0" y2="728.0" stroke-width="7.5"/>
</g>
<g stroke="#333" stroke-width="3.9" fill="#fff" fill-opacity=".2" stroke-linejoin="round">
<path d="M432.3,535.0 432.3,537.0 432.3,539.0 432.3,541.0 432.2,543.0 432.2,545.0 432.2,547.0 432.2,549.0 432.2,551.0 432.2,553.0 432.2,555.0 432.2,557.0 432.2,559.0 432.2,561.0 432.2,563.0 432.2,565.0 432.1,567.0 432.1,569.0 432.0,571.0 431.7,573.0 431.3,575.0 430.9,577.0 430.4,579.0 429.8,581.0 429.3,583.0 428.8,585.0 428.4,587.0 427.9,589.0 427.5,591.0 427.0,593.0 426.5,595.0 426.0,597.0 425.5,599.0 425.1,601.0 424.6,603.0 424.1,605.0 423.6,607.0 423.2,609.0 422.7,611.0 422.3,613.0 421.9,615.0 421.5,617.0 421.0,619.0 420.6,621.0 420.3,623.0 420.0,625.0 419.7,627.0 419.5,629.0 419.3,631.0 419.1,633.0 418.9,635.0 418.8,637.0 418.6,639.0 418.5,641.0 418.3,643.0 418.2,645.0 418.0,647.0 417.9,649.0 417.7,651.0 417.6,653.0 417.4,655.0 417.2,657.0 417.1,659.0 416.9,661.0 416.7,663.0 416.5,665.0 416.2,667.0 415.7,669.0 414.9,671.0 414.1,673.0 413.1,675.0 412.1,677.0 411.0,679.0 409.8,681.0 408.5,683.0 407.1,685.0 405.5,687.0 403.7,689.0 401.7,691.0 399.5,693.0 397.1,695.0 394.6,697.0 392.1,699.0 389.5,701.0 386.8,703.0 384.1,705.0 381.3,707.0 378.3,709.0 375.3,711.0 372.1,713.0 368.8,715.0 365.4,717.0 362.2,719.0 359.2,721.0 356.4,723.0 353.7,725.0 350.9,727.0 348.1,729.0 345.3,731.0 342.5,733.0 339.6,735.0 336.6,737.0 333.9,739.0 331.4,741.0 329.2,743.0 327.1,745.0 325.4,747.0 323.8,749.0 322.5,751.0 321.4,753.0 320.7,755.0 320.1,757.0 319.7,759.0 319.6,761.0 319.6,763.0 319.5,765.0 319.5,767.0 319.7,769.0 320.1,771.0 320.6,773.0 321.0,775.0 321.6,777.0 322.1,779.0 322.6,781.0 323.0,783.0 323.4,785.0 323.7,787.0 323.8,789.0 324.0,791.0 324.0,793.0 323.9,795.0 323.5,797.0 322.9,799.0 322.1,801.0 321.1,803.0 319.8,805.0 318.4,807.0 317.1,809.0 315.7,811.0 314.2,813.0 312.8,815.0 311.3,817.0 309.9,819.0 308.8,821.0 307.6,823.0 306.7,825.0 305.9,827.0 305.4,829.0 304.9,831.0 304.6,833.0 304.6,835.0 304.5,837.0 304.7,839.0 305.4,841.0 306.2,843.0 307.1,845.0 308.3,847.0 309.6,849.0 311.1,851.0 312.9,853.0 314.9,855.0 316.9,857.0 318.9,859.0 321.0,861.0 323.1,863.0 325.2,865.0 327.4,867.0 329.6,869.0 331.9,871.0 334.3,873.0 336.7,875.0 339.1,877.0 341.5,879.0 343.8,881.0 346.0,883.0 348.3,885.0 350.5,887.0 352.7,889.0 354.9,891.0 357.1,893.0 359.3,895.0 361.5,897.0 363.7,899.0 365.9,901.0 368.1,903.0 370.3,905.0 372.5,907.0 374.6,909.0 376.8,911.0 379.0,913.0 381.2,915.0 383.5,917.0 385.7,919.0 387.9,921.0 390.0,923.0 392.0,925.0 394.0,927.0 396.0,929.0 397.9,931.0 399.8,933.0 401.7,935.0 403.4,937.0 405.2,939.0 406.8,941.0 408.3,943.0 409.8,945.0 411.2,947.0 412.6,949.0 414.0,951.0 415.3,953.0 416.5,955.0 417.5,957.0 418.4,959.0 419.1,961.0 419.8,963.0 420.4,965.0 421.0,967.0 421.5,969.0 422.0,971.0 422.4,973.0 422.6,975.0 422.7,977.0 422.8,979.0 422.9,981.0 422.9,983.0 422.9,985.0 423.0,987.0 423.0,989.0 423.0,991.0 423.0,993.0 423.0,995.0 422.9,997.0 422.7,999.0 422.5,1001.0 422.3,1003.0 422.2,1005.0 422.0,1007.0 421.9,1009.0 421.9,1011.0 422.0,1013.0 422.0,1015.0 422.1,1017.0 422.2,1019.0 422.3,1021.0 422.5,1023.0 422.6,1025.0 422.8,1027.0 423.0,1029.0 423.2,1031.0 423.5,1033.0 423.9,1035.0 424.3,1037.0 424.7,1039.0 424.7,1039.2 444.7,1039.2 444.8,1039.0 445.2,1037.0 445.6,1035.0 445.9,1033.0 446.2,1031.0 446.5,1029.0 446.7,1027.0 446.9,1025.0 447.0,1023.0 447.1,1021.0 447.3,1019.0 447.4,1017.0 447.4,1015.0 447.5,1013.0 447.5,1011.0 447.5,1009.0 447.4,1007.0 447.3,1005.0 447.1,1003.0 446.9,1001.0 446.7,999.0 446.6,997.0 446.5,995.0 446.4,993.0 446.4,991.0 446.5,989.0 446.5,987.0 446.5,985.0 446.6,983.0 446.6,981.0 446.7,979.0 446.7,977.0 446.8,975.0 447.1,973.0 447.5,971.0 447.9,969.0 448.5,967.0 449.1,965.0 449.7,963.0 450.4,961.0 451.1,959.0 452.0,957.0 453.0,955.0 454.2,953.0 455.5,951.0 456.8,949.0 458.2,947.0 459.7,945.0 461.1,943.0 462.7,941.0 464.3,939.0 466.0,937.0 467.8,935.0 469.7,933.0 471.6,931.0 473.5,929.0 475.4,927.0 477.4,925.0 479.5,923.0 481.6,921.0 483.8,919.0 486.0,917.0 488.2,915.0 490.4,913.0 492.6,911.0 494.8,909.0 497.0,907.0 499.2,905.0 501.4,903.0 503.5,901.0 505.7,899.0 507.9,897.0 510.1,895.0 512.3,893.0 514.5,891.0 516.8,889.0 519.0,887.0 521.2,885.0 523.4,883.0 525.7,881.0 528.0,879.0 530.4,877.0 532.8,875.0 535.2,873.0 537.5,871.0 539.8,869.0 542.1,867.0 544.3,865.0 546.4,863.0 548.5,861.0 550.5,859.0 552.5,857.0 554.5,855.0 556.5,853.0 558.3,851.0 559.8,849.0 561.2,847.0 562.3,845.0 563.3,843.0 564.1,841.0 564.7,839.0 564.9,837.0 564.9,835.0 564.8,833.0 564.6,831.0 564.1,829.0 563.5,827.0 562.8,825.0 561.8,823.0 560.7,821.0 559.5,819.0 558.1,817.0 556.7,815.0 555.2,813.0 553.8,811.0 552.4,809.0 551.0,807.0 549.7,805.0 548.4,803.0 547.3,801.0 546.6,799.0 546.0,797.0 545.6,795.0 545.4,793.0 545.5,791.0 545.6,789.0 545.8,787.0 546.1,785.0 546.4,783.0 546.9,781.0 547.4,779.0 547.9,777.0 548.4,775.0 548.9,773.0 549.3,771.0 549.7,769.0 549.9,767.0 549.9,765.0 549.9,763.0 549.9,761.0 549.8,759.0 549.4,757.0 548.7,755.0 548.0,753.0 547.0,751.0 545.6,749.0 544.1,747.0 542.3,745.0 540.3,743.0 538.0,741.0 535.6,739.0 532.8,737.0 529.9,735.0 527.0,733.0 524.2,731.0 521.4,729.0 518.5,727.0 515.8,725.0 513.1,723.0 510.3,721.0 507.3,719.0 504.0,717.0 500.6,715.0 497.3,713.0 494.2,711.0 491.1,709.0 488.2,707.0 485.3,705.0 482.6,703.0 480.0,701.0 477.4,699.0 474.8,697.0 472.4,695.0 470.0,693.0 467.8,691.0 465.8,689.0 464.0,687.0 462.4,685.0 460.9,683.0 459.6,681.0 458.4,679.0 457.4,677.0 456.4,675.0 455.4,673.0 454.5,671.0 453.8,669.0 453.3,667.0 453.0,665.0 452.7,663.0 452.5,661.0 452.4,659.0 452.2,657.0 452.1,655.0 451.9,653.0 451.7,651.0 451.6,649.0 451.4,647.0 451.3,645.0 451.1,643.0 451.0,641.0 450.9,639.0 450.7,637.0 450.5,635.0 450.4,633.0 450.2,631.0 450.0,629.0 449.8,627.0 449.5,625.0 449.2,623.0 448.8,621.0 448.4,619.0 448.0,617.0 447.6,615.0 447.2,613.0 446.7,611.0 446.3,609.0 445.8,607.0 445.4,605.0 444.9,603.0 444.4,601.0 443.9,599.0 443.4,597.0 442.9,595.0 442.5,593.0 442.0,591.0 441.5,589.0 441.1,587.0 440.6,585.0 440.1,583.0 439.6,581.0 439.1,579.0 438.6,577.0 438.1,575.0 437.8,573.0 437.5,571.0 437.3,569.0 437.3,567.0 437.3,565.0 437.3,563.0 437.3,561.0 437.3,559.0 437.3,557.0 437.3,555.0 437.3,553.0 437.3,551.0 437.3,549.0 437.2,547.0 437.2,545.0 437.2,543.0 437.2,541.0 437.2,539.0 437.2,537.0 437.1,535.0Z"/>
<path d="M949.2,398.5 949.2,400.5 949.2,402.5 949.2,404.5 949.2,406.5 949.2,408.5 949.2,410.5 949.2,412.5 949.2,414.5 949.2,416.5 949.2,418.5 949.2,420.5 949.2,422.5 949.2,424.5 949.2,426.5 949.2,428.5 949.3,430.5 949.7,432.5 950.3,434.5 950.5,436.5 950.5,438.5 950.5,440.5 950.5,442.5 950.5,444.5 950.5,446.5 950.5,448.5 950.5,450.5 950.5,452.5 950.5,454.5 950.5,456.5 950.5,458.5 950.5,460.5 950.5,462.5 950.0,464.5 949.4,466.5 949.2,468.5 949.2,470.5 949.2,472.5 949.2,474.5 949.2,476.5 949.2,478.5 949.2,480.5 949.2,482.5 949.1,484.5 949.1,486.5 949.0,488.5 948.9,490.5 948.7,492.5 948.5,494.5 948.3,496.5 948.1,498.5 947.8,500.5 947.6,502.5 947.4,504.5 947.2,506.5 946.9,508.5 946.7,510.5 946.5,512.5 946.3,514.5 946.1,516.5 945.8,518.5 945.6,520.5 945.3,522.5 945.1,524.5 944.8,526.5 944.6,528.5 944.3,530.5 944.0,532.5 943.8,534.5 943.5,536.5 943.2,538.5 942.8,540.5 942.5,542.5 942.2,544.5 941.8,546.5 941.5,548.5 941.1,550.5 940.7,552.5 940.3,554.5 939.9,556.5 939.5,558.5 939.1,560.5 938.7,562.5 938.3,564.5 937.9,566.5 937.4,568.5 937.0,570.5 936.6,572.5 936.2,574.5 935.8,576.5 935.3,578.5 934.9,580.5 934.5,582.5 934.0,584.5 933.5,586.5 933.1,588.5 932.6,590.5 932.1,592.5 931.6,594.5 931.1,596.5 930.6,598.5 930.0,600.5 929.5,602.5 928.9,604.5 928.3,606.5 927.6,608.5 926.9,610.5 926.3,612.5 925.5,614.5 924.8,616.5 924.1,618.5 923.3,620.5 922.5,622.5 921.7,624.5 920.9,626.5 920.1,628.5 919.3,630.5 918.5,632.5 917.6,634.5 916.8,636.5 916.0,638.5 915.1,640.5 914.3,642.5 913.4,644.5 912.5,646.5 911.7,648.5 910.7,650.5 909.8,652.5 908.9,654.5 908.0,656.5 907.1,658.5 906.1,660.5 905.2,662.5 904.3,664.5 903.4,666.5 902.4,668.5 901.5,670.5 900.6,672.5 899.6,674.5 898.7,676.5 897.7,678.5 896.8,680.5 895.8,682.5 894.9,684.5 893.9,686.5 893.0,688.5 892.0,690.5 891.0,692.5 890.1,694.5 889.1,696.5 888.2,698.5 887.2,700.5 886.3,702.5 885.4,704.5 884.4,706.5 883.5,708.5 882.6,710.5 881.7,712.5 880.7,714.5 879.8,716.5 878.9,718.5 878.0,720.5 877.1,722.5 876.2,724.5 875.3,726.5 874.4,728.5 873.5,730.5 872.7,732.5 871.8,734.5 871.0,736.5 870.2,738.5 869.4,740.5 868.5,742.5 867.7,744.5 866.8,746.5 865.9,748.5 864.9,750.5 863.9,752.5 862.9,754.5 862.0,756.5 861.0,758.5 860.1,760.5 859.3,762.5 858.4,764.5 857.6,766.5 856.8,768.5 856.0,770.5 855.3,772.5 854.6,774.5 853.9,776.5 853.3,778.5 852.7,780.5 852.1,782.5 851.6,784.5 851.1,786.5 850.6,788.5 850.2,790.5 849.7,792.5 849.3,794.5 849.0,796.5 848.8,798.5 848.7,800.5 848.7,802.5 848.7,804.5 848.6,806.5 848.7,808.5 849.0,810.5 849.6,812.5 850.1,814.5 850.6,816.5 851.1,818.5 851.5,820.5 852.0,822.5 852.5,824.5 853.0,826.5 853.6,828.5 854.2,830.5 854.9,832.5 855.6,834.5 856.4,836.5 857.2,838.5 857.9,840.5 858.7,842.5 859.4,844.5 860.2,846.5 861.0,848.5 861.8,850.5 862.7,852.5 863.5,854.5 864.4,856.5 865.3,858.5 866.2,860.5 867.2,862.5 868.2,864.5 869.2,866.5 870.3,868.5 871.5,870.5 872.8,872.5 874.1,874.5 875.4,876.5 876.7,878.5 878.1,880.5 879.4,882.5 880.9,884.5 882.3,886.5 883.8,888.5 885.2,890.5 886.7,892.5 888.1,894.5 889.5,896.5 890.9,898.5 892.3,900.5 893.7,902.5 895.0,904.5 896.4,906.5 897.7,908.5 899.1,910.5 900.4,912.5 901.7,914.5 903.0,916.5 904.3,918.5 905.6,920.5 906.9,922.5 908.2,924.5 909.5,926.5 910.9,928.5 912.1,930.5 913.4,932.5 914.5,934.5 915.6,936.5 916.7,938.5 917.8,940.5 918.8,942.5 919.8,944.5 920.8,946.5 921.8,948.5 922.8,950.5 923.8,952.5 924.7,954.5 925.7,956.5 926.6,958.5 927.4,960.5 928.3,962.5 929.0,964.5 929.8,966.5 930.6,968.5 931.5,970.5 932.4,972.5 933.4,974.5 934.4,976.5 935.3,978.5 936.3,980.5 937.0,982.5 937.7,984.5 938.3,986.5 938.9,988.5 939.5,990.5 940.0,992.5 940.5,994.5 940.9,996.5 941.4,998.5 941.8,1000.5 942.3,1002.5 942.7,1004.5 943.1,1006.5 943.5,1008.5 943.8,1010.5 944.2,1012.5 944.5,1014.5 944.7,1015.8 958.7,1015.8 958.9,1014.5 959.3,1012.5 959.6,1010.5 960.0,1008.5 960.4,1006.5 960.8,1004.5 961.2,1002.5 961.6,1000.5 962.1,998.5 962.5,996.5 963.0,994.5 963.5,992.5 964.0,990.5 964.5,988.5 965.1,986.5 965.7,984.5 966.4,982.5 967.2,980.5 968.1,978.5 969.1,976.5 970.1,974.5 971.1,972.5 972.0,970.5 972.9,968.5 973.7,966.5 974.4,964.5 975.2,962.5 976.0,960.5 976.9,958.5 977.8,956.5 978.7,954.5 979.7,952.5 980.6,950.5 981.6,948.5 982.6,946.5 983.6,944.5 984.6,942.5 985.7,940.5 986.7,938.5 987.8,936.5 988.9,934.5 990.1,932.5 991.3,930.5 992.6,928.5 993.9,926.5 995.2,924.5 996.6,922.5 997.9,920.5 999.2,918.5 1000.5,916.5 1001.8,914.5 1003.1,912.5 1004.4,910.5 1005.7,908.5 1007.1,906.5 1008.4,904.5 1009.8,902.5 1011.2,900.5 1012.6,898.5 1014.0,896.5 1015.4,894.5 1016.8,892.5 1018.2,890.5 1019.7,888.5 1021.1,886.5 1022.6,884.5 1024.0,882.5 1025.4,880.5 1026.7,878.5 1028.1,876.5 1029.4,874.5 1030.7,872.5 1031.9,870.5 1033.1,868.5 1034.2,866.5 1035.3,864.5 1036.3,862.5 1037.2,860.5 1038.1,858.5 1039.0,856.5 1039.9,854.5 1040.8,852.5 1041.6,850.5 1042.4,848.5 1043.2,846.5 1044.0,844.5 1044.8,842.5 1045.5,840.5 1046.3,838.5 1047.1,836.5 1047.8,834.5 1048.5,832.5 1049.2,830.5 1049.9,828.5 1050.5,826.5 1051.0,824.5 1051.5,822.5 1051.9,820.5 1052.4,818.5 1052.9,816.5 1053.3,814.5 1053.8,812.5 1054.4,810.5 1054.8,808.5 1054.8,806.5 1054.8,804.5 1054.8,802.5 1054.7,800.5 1054.7,798.5 1054.4,796.5 1054.1,794.5 1053.7,792.5 1053.3,790.5 1052.8,788.5 1052.4,786.5 1051.9,784.5 1051.4,782.5 1050.8,780.5 1050.2,778.5 1049.5,776.5 1048.8,774.5 1048.2,772.5 1047.4,770.5 1046.7,768.5 1045.9,766.5 1045.1,764.5 1044.2,762.5 1043.3,760.5 1042.5,758.5 1041.5,756.5 1040.5,754.5 1039.5,752.5 1038.5,750.5 1037.6,748.5 1036.6,746.5 1035.8,744.5 1034.9,742.5 1034.1,740.5 1033.3,738.5 1032.5,736.5 1031.6,734.5 1030.8,732.5 1029.9,730.5 1029.0,728.5 1028.1,726.5 1027.3,724.5 1026.4,722.5 1025.5,720.5 1024.6,718.5 1023.6,716.5 1022.7,714.5 1021.8,712.5 1020.9,710.5 1020.0,708.5 1019.0,706.5 1018.1,704.5 1017.2,702.5 1016.2,700.5 1015.3,698.5 1014.3,696.5 1013.4,694.5 1012.4,692.5 1011.5,690.5 1010.5,688.5 1009.5,686.5 1008.6,684.5 1007.6,682.5 1006.7,680.5 1005.7,678.5 1004.8,676.5 1003.8,674.5 1002.9,672.5 1002.0,670.5 1001.0,668.5 1000.1,666.5 999.2,664.5 998.2,662.5 997.3,660.5 996.4,658.5 995.5,656.5 994.5,654.5 993.6,652.5 992.7,650.5 991.8,648.5 990.9,646.5 990.0,644.5 989.2,642.5 988.3,640.5 987.5,638.5 986.6,636.5 985.8,634.5 985.0,632.5 984.2,630.5 983.4,628.5 982.6,626.5 981.8,624.5 981.0,622.5 980.2,620.5 979.4,618.5 978.7,616.5 977.9,614.5 977.2,612.5 976.5,610.5 975.8,608.5 975.2,606.5 974.6,604.5 974.0,602.5 973.4,600.5 972.9,598.5 972.4,596.5 971.8,594.5 971.3,592.5 970.9,590.5 970.4,588.5 969.9,586.5 969.5,584.5 969.0,582.5 968.6,580.5 968.1,578.5 967.7,576.5 967.3,574.5 966.9,572.5 966.4,570.5 966.0,568.5 965.6,566.5 965.2,564.5 964.8,562.5 964.3,560.5 963.9,558.5 963.5,556.5 963.1,554.5 962.8,552.5 962.4,550.5 962.0,548.5 961.6,546.5 961.3,544.5 960.9,542.5 960.6,540.5 960.3,538.5 960.0,536.5 959.7,534.5 959.4,532.5 959.2,530.5 958.9,528.5 958.6,526.5 958.4,524.5 958.1,522.5 957.9,520.5 957.6,518.5 957.4,516.5 957.2,514.5 957.0,512.5 956.7,510.5 956.5,508.5 956.3,506.5 956.1,504.5 955.9,502.5 955.6,500.5 955.4,498.5 955.2,496.5 954.9,494.5 954.7,492.5 954.5,490.5 954.4,488.5 954.3,486.5 954.3,484.5 954.3,482.5 954.3,480.5 954.3,478.5 954.3,476.5 954.3,474.5 954.3,472.5 954.3,470.5 954.2,468.5 954.0,466.5 953.4,464.5 953.0,462.5 952.9,460.5 952.9,458.5 952.9,456.5 952.9,454.5 952.9,452.5 952.9,450.5 952.9,448.5 952.9,446.5 952.9,444.5 952.9,442.5 952.9,440.5 952.9,438.5 952.9,436.5 953.1,434.5 953.7,432.5 954.2,430.5 954.2,428.5 954.2,426.5 954.2,424.5 954.2,422.5 954.2,420.5 954.2,418.5 954.2,416.5 954.2,414.5 954.2,412.5 954.2,410.5 954.2,408.5 954.2,406.5 954.2,404.5 954.2,402.5 954.2,400.5 954.2,398.5Z"/>
<path d="M1468.2,74.0 1468.2,76.0 1468.2,78.0 1468.2,80.0 1468.2,82.0 1468.2,84.0 1468.2,86.0 1468.2,88.0 1468.2,90.0 1468.2,92.0 1468.2,94.0 1468.2,96.0 1468.2,98.0 1468.2,100.0 1468.2,102.0 1468.2,104.0 1468.2,106.0 1468.2,108.0 1468.2,110.0 1468.2,112.0 1468.2,114.0 1468.2,116.0 1468.2,118.0 1468.2,120.0 1468.2,122.0 1468.2,124.0 1468.2,126.0 1468.2,128.0 1468.2,130.0 1468.2,132.0 1468.2,134.0 1468.2,136.0 1468.2,138.0 1468.2,140.0 1468.2,142.0 1468.2,144.0 1468.2,146.0 1468.2,148.0 1468.2,150.0 1468.2,152.0 1468.2,154.0 1468.2,156.0 1468.2,158.0 1468.2,160.0 1468.2,162.0 1468.2,164.0 1468.2,166.0 1468.2,168.0 1468.2,170.0 1468.2,172.0 1468.2,174.0 1468.2,176.0 1468.2,178.0 1468.2,180.0 1468.2,182.0 1468.2,184.0 1468.2,186.0 1468.2,188.0 1468.2,190.0 1468.2,192.0 1468.2,194.0 1468.2,196.0 1468.2,198.0 1468.2,200.0 1468.2,202.0 1468.2,204.0 1468.2,206.0 1468.2,208.0 1468.2,210.0 1468.2,212.0 1468.2,214.0 1468.2,216.0 1468.2,218.0 1468.2,220.0 1468.2,222.0 1468.2,224.0 1468.2,226.0 1468.2,228.0 1468.2,230.0 1468.2,232.0 1468.2,234.0 1468.2,236.0 1468.2,238.0 1468.2,240.0 1468.2,242.0 1468.2,244.0 1468.2,246.0 1468.2,248.0 1468.2,250.0 1468.2,252.0 1468.2,254.0 1468.2,256.0 1468.2,258.0 1468.2,260.0 1468.2,262.0 1468.2,264.0 1468.2,266.0 1468.2,268.0 1468.2,270.0 1468.2,272.0 1468.2,274.0 1468.2,276.0 1468.2,278.0 1468.2,280.0 1468.2,282.0 1468.2,284.0 1468.2,286.0 1468.2,288.0 1468.2,290.0 1468.2,292.0 1468.2,294.0 1468.2,296.0 1468.2,298.0 1468.2,300.0 1468.2,302.0 1468.2,304.0 1468.2,306.0 1468.2,308.0 1468.2,310.0 1468.2,312.0 1468.2,314.0 1468.2,316.0 1468.2,318.0 1468.2,320.0 1468.1,322.0 1468.1,324.0 1468.1,326.0 1468.1,328.0 1468.1,330.0 1468.1,332.0 1468.1,334.0 1468.1,336.0 1468.1,338.0 1468.1,340.0 1468.1,342.0 1468.1,344.0 1468.1,346.0 1468.0,348.0 1467.6,350.0 1467.2,352.0 1466.7,354.0 1466.3,356.0 1466.1,358.0 1465.9,360.0 1465.7,362.0 1465.5,364.0 1465.3,366.0 1465.2,368.0 1465.0,370.0 1464.9,372.0 1464.8,374.0 1464.7,376.0 1464.5,378.0 1464.4,380.0 1464.3,382.0 1464.1,384.0 1464.0,386.0 1463.9,388.0 1463.7,390.0 1463.6,392.0 1463.4,394.0 1463.3,396.0 1463.1,398.0 1462.9,400.0 1462.8,402.0 1462.6,404.0 1462.5,406.0 1462.3,408.0 1462.1,410.0 1462.0,412.0 1461.8,414.0 1461.7,416.0 1461.6,418.0 1461.4,420.0 1461.3,422.0 1461.2,424.0 1461.1,426.0 1461.0,428.0 1460.9,430.0 1460.8,432.0 1460.7,434.0 1460.6,436.0 1460.5,438.0 1460.4,440.0 1460.3,442.0 1460.2,444.0 1460.1,446.0 1460.0,448.0 1459.8,450.0 1459.7,452.0 1459.6,454.0 1459.5,456.0 1459.3,458.0 1459.2,460.0 1459.0,462.0 1458.9,464.0 1458.7,466.0 1458.5,468.0 1458.3,470.0 1458.0,472.0 1457.6,474.0 1457.2,476.0 1456.7,478.0 1456.2,480.0 1455.7,482.0 1455.2,484.0 1454.6,486.0 1454.1,488.0 1453.5,490.0 1453.0,492.0 1452.4,494.0 1451.8,496.0 1451.3,498.0 1450.7,500.0 1450.2,502.0 1449.7,504.0 1449.1,506.0 1448.6,508.0 1448.0,510.0 1447.5,512.0 1446.9,514.0 1446.4,516.0 1445.8,518.0 1445.2,520.0 1444.7,522.0 1444.1,524.0 1443.6,526.0 1443.0,528.0 1442.5,530.0 1441.9,532.0 1441.4,534.0 1440.8,536.0 1440.3,538.0 1439.7,540.0 1439.2,542.0 1438.6,544.0 1438.1,546.0 1437.6,548.0 1437.0,550.0 1436.5,552.0 1436.0,554.0 1435.5,556.0 1434.9,558.0 1434.3,560.0 1433.7,562.0 1433.0,564.0 1432.2,566.0 1431.5,568.0 1430.7,570.0 1429.9,572.0 1429.0,574.0 1428.2,576.0 1427.3,578.0 1426.4,580.0 1425.5,582.0 1424.5,584.0 1423.6,586.0 1422.8,588.0 1421.9,590.0 1421.0,592.0 1420.1,594.0 1419.3,596.0 1418.4,598.0 1417.6,600.0 1416.8,602.0 1416.1,604.0 1415.3,606.0 1414.6,608.0 1413.8,610.0 1413.1,612.0 1412.4,614.0 1411.7,616.0 1410.9,618.0 1410.2,620.0 1409.5,622.0 1408.9,624.0 1408.2,626.0 1407.6,628.0 1407.1,630.0 1406.5,632.0 1406.0,634.0 1405.5,636.0 1405.1,638.0 1404.7,640.0 1404.3,642.0 1404.0,644.0 1403.6,646.0 1403.3,648.0 1402.9,650.0 1402.5,652.0 1402.1,654.0 1401.7,656.0 1401.3,658.0 1400.9,660.0 1400.4,662.0 1399.9,664.0 1399.4,666.0 1398.7,668.0 1398.0,670.0 1397.4,672.0 1396.8,674.0 1396.3,676.0 1395.8,678.0 1395.3,680.0 1394.8,682.0 1394.4,684.0 1393.9,686.0 1393.4,688.0 1392.9,690.0 1392.4,692.0 1391.9,694.0 1391.3,696.0 1390.8,698.0 1390.3,700.0 1389.8,702.0 1389.3,704.0 1388.9,706.0 1388.5,708.0 1388.1,710.0 1387.7,712.0 1387.4,714.0 1387.0,716.0 1386.7,718.0 1386.5,720.0 1386.3,722.0 1386.2,724.0 1386.1,726.0 1386.0,728.0 1386.0,730.0 1385.9,732.0 1385.9,734.0 1386.0,736.0 1386.2,738.0 1386.4,740.0 1386.7,742.0 1387.0,744.0 1387.3,746.0 1387.7,748.0 1388.2,750.0 1388.6,752.0 1389.0,754.0 1389.4,756.0 1389.8,758.0 1390.2,760.0 1390.7,762.0 1391.2,764.0 1391.8,766.0 1392.3,768.0 1392.9,770.0 1393.4,772.0 1393.9,774.0 1394.4,776.0 1394.9,778.0 1395.4,780.0 1395.9,782.0 1396.4,784.0 1396.9,786.0 1397.4,788.0 1397.9,790.0 1398.4,792.0 1398.9,794.0 1399.3,796.0 1399.8,798.0 1400.3,800.0 1400.8,802.0 1401.3,804.0 1401.8,806.0 1402.4,808.0 1403.0,810.0 1403.7,812.0 1404.4,814.0 1405.1,816.0 1405.9,818.0 1406.6,820.0 1407.4,822.0 1408.2,824.0 1409.0,826.0 1409.9,828.0 1410.8,830.0 1411.7,832.0 1412.7,834.0 1413.6,836.0 1414.5,838.0 1415.4,840.0 1416.3,842.0 1417.3,844.0 1418.2,846.0 1419.1,848.0 1420.1,850.0 1421.0,852.0 1421.8,854.0 1422.7,856.0 1423.4,858.0 1424.2,860.0 1424.9,862.0 1425.6,864.0 1426.3,866.0 1426.9,868.0 1427.6,870.0 1428.3,872.0 1429.0,874.0 1429.7,876.0 1430.4,878.0 1431.1,880.0 1431.8,882.0 1432.5,884.0 1433.2,886.0 1433.9,888.0 1434.5,890.0 1435.2,892.0 1435.8,894.0 1436.4,896.0 1437.0,898.0 1437.6,900.0 1438.2,902.0 1438.8,904.0 1439.3,906.0 1439.9,908.0 1440.4,910.0 1440.9,912.0 1441.4,914.0 1441.9,916.0 1442.4,918.0 1442.9,920.0 1443.4,922.0 1443.9,924.0 1444.4,926.0 1444.9,928.0 1445.5,930.0 1446.0,932.0 1446.5,934.0 1447.0,936.0 1447.5,938.0 1447.9,940.0 1448.4,942.0 1448.8,944.0 1449.2,946.0 1449.6,948.0 1449.9,950.0 1450.3,952.0 1450.7,954.0 1451.1,956.0 1451.5,958.0 1451.9,960.0 1452.3,962.0 1452.7,964.0 1453.1,966.0 1453.5,968.0 1453.9,970.0 1454.3,972.0 1454.6,974.0 1455.0,976.0 1455.3,978.0 1455.6,980.0 1455.9,982.0 1456.2,984.0 1456.4,986.0 1456.7,988.0 1457.0,990.0 1457.3,992.0 1457.6,994.0 1458.0,996.0 1458.3,998.0 1458.6,1000.0 1458.9,1002.0 1459.2,1004.0 1459.4,1006.0 1459.7,1008.0 1459.9,1010.0 1460.2,1012.0 1460.4,1014.0 1460.7,1016.0 1460.9,1018.0 1461.1,1020.0 1461.3,1022.0 1461.5,1024.0 1461.7,1026.0 1461.9,1028.0 1462.1,1030.0 1462.3,1032.0 1462.4,1034.0 1462.6,1036.0 1462.8,1038.0 1462.9,1040.0 1463.1,1042.0 1463.2,1044.0 1463.3,1046.0 1463.5,1048.0 1463.6,1050.0 1463.7,1052.0 1463.8,1054.0 1463.9,1056.0 1464.0,1058.0 1464.1,1060.0 1464.2,1062.0 1464.3,1064.0 1464.4,1066.0 1464.5,1068.0 1464.6,1070.0 1464.7,1072.0 1464.8,1074.0 1464.9,1076.0 1465.0,1078.0 1465.1,1080.0 1465.2,1082.0 1465.2,1084.0 1465.3,1086.0 1465.4,1088.0 1465.6,1090.0 1465.7,1092.0 1465.8,1094.0 1465.9,1096.0 1466.1,1098.0 1466.3,1100.0 1466.4,1102.0 1466.6,1104.0 1466.8,1106.0 1466.9,1108.0 1467.0,1110.0 1467.1,1112.0 1467.3,1114.0 1467.4,1116.0 1467.5,1118.0 1467.6,1120.0 1467.7,1122.0 1467.8,1124.0 1467.9,1126.0 1468.0,1128.0 1468.1,1130.0 1468.2,1132.0 1468.3,1134.0 1468.3,1136.0 1468.4,1138.0 1468.4,1139.0 1469.0,1139.0 1469.1,1138.0 1469.1,1136.0 1469.2,1134.0 1469.3,1132.0 1469.4,1130.0 1469.5,1128.0 1469.5,1126.0 1469.6,1124.0 1469.7,1122.0 1469.9,1120.0 1470.0,1118.0 1470.1,1116.0 1470.2,1114.0 1470.3,1112.0 1470.4,1110.0 1470.6,1108.0 1470.7,1106.0 1470.9,1104.0 1471.0,1102.0 1471.2,1100.0 1471.4,1098.0 1471.5,1096.0 1471.7,1094.0 1471.8,1092.0 1471.9,1090.0 1472.0,1088.0 1472.1,1086.0 1472.2,1084.0 1472.3,1082.0 1472.4,1080.0 1472.5,1078.0 1472.6,1076.0 1472.7,1074.0 1472.8,1072.0 1472.8,1070.0 1472.9,1068.0 1473.0,1066.0 1473.1,1064.0 1473.2,1062.0 1473.3,1060.0 1473.4,1058.0 1473.5,1056.0 1473.7,1054.0 1473.8,1052.0 1473.9,1050.0 1474.0,1048.0 1474.1,1046.0 1474.3,1044.0 1474.4,1042.0 1474.5,1040.0 1474.7,1038.0 1474.8,1036.0 1475.0,1034.0 1475.2,1032.0 1475.4,1030.0 1475.6,1028.0 1475.8,1026.0 1476.0,1024.0 1476.2,1022.0 1476.4,1020.0 1476.6,1018.0 1476.8,1016.0 1477.0,1014.0 1477.3,1012.0 1477.5,1010.0 1477.8,1008.0 1478.0,1006.0 1478.3,1004.0 1478.6,1002.0 1478.9,1000.0 1479.2,998.0 1479.5,996.0 1479.8,994.0 1480.1,992.0 1480.4,990.0 1480.7,988.0 1481.0,986.0 1481.3,984.0 1481.6,982.0 1481.9,980.0 1482.2,978.0 1482.5,976.0 1482.8,974.0 1483.2,972.0 1483.5,970.0 1483.9,968.0 1484.3,966.0 1484.7,964.0 1485.1,962.0 1485.6,960.0 1486.0,958.0 1486.4,956.0 1486.8,954.0 1487.1,952.0 1487.5,950.0 1487.9,948.0 1488.3,946.0 1488.7,944.0 1489.1,942.0 1489.5,940.0 1490.0,938.0 1490.5,936.0 1491.0,934.0 1491.5,932.0 1492.0,930.0 1492.5,928.0 1493.0,926.0 1493.6,924.0 1494.1,922.0 1494.6,920.0 1495.0,918.0 1495.5,916.0 1496.0,914.0 1496.5,912.0 1497.0,910.0 1497.6,908.0 1498.1,906.0 1498.7,904.0 1499.3,902.0 1499.8,900.0 1500.4,898.0 1501.0,896.0 1501.7,894.0 1502.3,892.0 1502.9,890.0 1503.6,888.0 1504.3,886.0 1504.9,884.0 1505.7,882.0 1506.4,880.0 1507.1,878.0 1507.8,876.0 1508.5,874.0 1509.2,872.0 1509.9,870.0 1510.5,868.0 1511.2,866.0 1511.9,864.0 1512.6,862.0 1513.3,860.0 1514.0,858.0 1514.8,856.0 1515.6,854.0 1516.5,852.0 1517.4,850.0 1518.3,848.0 1519.3,846.0 1520.2,844.0 1521.1,842.0 1522.0,840.0 1522.9,838.0 1523.9,836.0 1524.8,834.0 1525.7,832.0 1526.6,830.0 1527.5,828.0 1528.4,826.0 1529.2,824.0 1530.0,822.0 1530.8,820.0 1531.6,818.0 1532.3,816.0 1533.1,814.0 1533.8,812.0 1534.4,810.0 1535.0,808.0 1535.6,806.0 1536.2,804.0 1536.7,802.0 1537.2,800.0 1537.6,798.0 1538.1,796.0 1538.6,794.0 1539.0,792.0 1539.5,790.0 1540.0,788.0 1540.5,786.0 1541.0,784.0 1541.5,782.0 1542.0,780.0 1542.5,778.0 1543.0,776.0 1543.6,774.0 1544.1,772.0 1544.6,770.0 1545.1,768.0 1545.7,766.0 1546.2,764.0 1546.7,762.0 1547.2,760.0 1547.7,758.0 1548.1,756.0 1548.5,754.0 1548.9,752.0 1549.3,750.0 1549.7,748.0 1550.1,746.0 1550.5,744.0 1550.8,742.0 1551.1,740.0 1551.3,738.0 1551.5,736.0 1551.5,734.0 1551.5,732.0 1551.5,730.0 1551.4,728.0 1551.4,726.0 1551.3,724.0 1551.2,722.0 1551.0,720.0 1550.7,718.0 1550.4,716.0 1550.1,714.0 1549.7,712.0 1549.4,710.0 1549.0,708.0 1548.6,706.0 1548.2,704.0 1547.7,702.0 1547.2,700.0 1546.7,698.0 1546.1,696.0 1545.6,694.0 1545.0,692.0 1544.5,690.0 1544.0,688.0 1543.6,686.0 1543.1,684.0 1542.6,682.0 1542.1,680.0 1541.7,678.0 1541.2,676.0 1540.6,674.0 1540.1,672.0 1539.4,670.0 1538.7,668.0 1538.1,666.0 1537.5,664.0 1537.0,662.0 1536.6,660.0 1536.1,658.0 1535.7,656.0 1535.3,654.0 1534.9,652.0 1534.6,650.0 1534.2,648.0 1533.8,646.0 1533.5,644.0 1533.1,642.0 1532.8,640.0 1532.4,638.0 1532.0,636.0 1531.5,634.0 1531.0,632.0 1530.4,630.0 1529.8,628.0 1529.2,626.0 1528.6,624.0 1527.9,622.0 1527.2,620.0 1526.5,618.0 1525.8,616.0 1525.1,614.0 1524.4,612.0 1523.6,610.0 1522.9,608.0 1522.2,606.0 1521.4,604.0 1520.6,602.0 1519.8,600.0 1519.0,598.0 1518.2,596.0 1517.3,594.0 1516.5,592.0 1515.6,590.0 1514.7,588.0 1513.8,586.0 1512.9,584.0 1512.0,582.0 1511.1,580.0 1510.2,578.0 1509.3,576.0 1508.4,574.0 1507.6,572.0 1506.8,570.0 1506.0,568.0 1505.2,566.0 1504.5,564.0 1503.8,562.0 1503.1,560.0 1502.5,558.0 1502.0,556.0 1501.5,554.0 1501.0,552.0 1500.4,550.0 1499.9,548.0 1499.4,546.0 1498.8,544.0 1498.3,542.0 1497.7,540.0 1497.2,538.0 1496.6,536.0 1496.1,534.0 1495.5,532.0 1495.0,530.0 1494.4,528.0 1493.9,526.0 1493.3,524.0 1492.8,522.0 1492.2,520.0 1491.7,518.0 1491.1,516.0 1490.5,514.0 1490.0,512.0 1489.4,510.0 1488.9,508.0 1488.3,506.0 1487.8,504.0 1487.3,502.0 1486.7,500.0 1486.2,498.0 1485.6,496.0 1485.1,494.0 1484.5,492.0 1483.9,490.0 1483.4,488.0 1482.8,486.0 1482.3,484.0 1481.8,482.0 1481.3,480.0 1480.8,478.0 1480.3,476.0 1479.8,474.0 1479.4,472.0 1479.1,470.0 1478.9,468.0 1478.7,466.0 1478.6,464.0 1478.4,462.0 1478.3,460.0 1478.1,458.0 1478.0,456.0 1477.9,454.0 1477.7,452.0 1477.6,450.0 1477.5,448.0 1477.4,446.0 1477.3,444.0 1477.1,442.0 1477.0,440.0 1476.9,438.0 1476.8,436.0 1476.7,434.0 1476.7,432.0 1476.6,430.0 1476.5,428.0 1476.4,426.0 1476.3,424.0 1476.2,422.0 1476.0,420.0 1475.9,418.0 1475.8,416.0 1475.6,414.0 1475.5,412.0 1475.3,410.0 1475.2,408.0 1475.0,406.0 1474.8,404.0 1474.7,402.0 1474.5,400.0 1474.4,398.0 1474.2,396.0 1474.0,394.0 1473.9,392.0 1473.7,390.0 1473.6,388.0 1473.4,386.0 1473.3,384.0 1473.2,382.0 1473.1,380.0 1472.9,378.0 1472.8,376.0 1472.7,374.0 1472.6,372.0 1472.4,370.0 1472.3,368.0 1472.1,366.0 1471.9,364.0 1471.8,362.0 1471.6,360.0 1471.4,358.0 1471.1,356.0 1470.8,354.0 1470.3,352.0 1469.8,350.0 1469.5,348.0 1469.3,346.0 1469.3,344.0 1469.3,342.0 1469.3,340.0 1469.3,338.0 1469.3,336.0 1469.3,334.0 1469.3,332.0 1469.3,330.0 1469.3,328.0 1469.3,326.0 1469.3,324.0 1469.3,322.0 1469.3,320.0 1469.3,318.0 1469.3,316.0 1469.3,314.0 1469.3,312.0 1469.3,310.0 1469.3,308.0 1469.3,306.0 1469.3,304.0 1469.3,302.0 1469.3,300.0 1469.3,298.0 1469.3,296.0 1469.3,294.0 1469.3,292.0 1469.3,290.0 1469.3,288.0 1469.3,286.0 1469.3,284.0 1469.3,282.0 1469.3,280.0 1469.3,278.0 1469.3,276.0 1469.3,274.0 1469.3,272.0 1469.3,270.0 1469.3,268.0 1469.3,266.0 1469.3,264.0 1469.3,262.0 1469.3,260.0 1469.3,258.0 1469.3,256.0 1469.3,254.0 1469.3,252.0 1469.3,250.0 1469.3,248.0 1469.3,246.0 1469.3,244.0 1469.3,242.0 1469.3,240.0 1469.3,238.0 1469.3,236.0 1469.3,234.0 1469.3,232.0 1469.3,230.0 1469.3,228.0 1469.3,226.0 1469.3,224.0 1469.3,222.0 1469.3,220.0 1469.3,218.0 1469.3,216.0 1469.3,214.0 1469.3,212.0 1469.3,210.0 1469.3,208.0 1469.3,206.0 1469.3,204.0 1469.3,202.0 1469.3,200.0 1469.3,198.0 1469.3,196.0 1469.3,194.0 1469.3,192.0 1469.3,190.0 1469.3,188.0 1469.3,186.0 1469.3,184.0 1469.3,182.0 1469.3,180.0 1469.3,178.0 1469.3,176.0 1469.3,174.0 1469.3,172.0 1469.3,170.0 1469.3,168.0 1469.3,166.0 1469.3,164.0 1469.3,162.0 1469.3,160.0 1469.3,158.0 1469.3,156.0 1469.3,154.0 1469.3,152.0 1469.3,150.0 1469.3,148.0 1469.3,146.0 1469.3,144.0 1469.3,142.0 1469.3,140.0 1469.3,138.0 1469.3,136.0 1469.3,134.0 1469.3,132.0 1469.3,130.0 1469.3,128.0 1469.3,126.0 1469.3,124.0 1469.3,122.0 1469.3,120.0 1469.3,118.0 1469.3,116.0 1469.3,114.0 1469.3,112.0 1469.3,110.0 1469.3,108.0 1469.3,106.0 1469.3,104.0 1469.3,102.0 1469.3,100.0 1469.3,98.0 1469.3,96.0 1469.3,94.0 1469.3,92.0 1469.3,90.0 1469.3,88.0 1469.3,86.0 1469.3,84.0 1469.3,82.0 1469.3,80.0 1469.3,78.0 1469.3,76.0 1469.3,74.0Z"/>
</g>
<circle cx="435.5" cy="811.4" r="23.5" fill="#8b0000"/>
<circle cx="952.5" cy="783.3" r="23.5" fill="#8b0000"/>
<circle cx="1469.5" cy="726.3" r="23.5" fill="#8b0000"/>
<line x1="531.0" x2="439.0" y1="811.0" y2="811.0" stroke="#000" stroke-width="3.8" stroke-dasharray="6 9.5 17.5 10"/>
<rect x="530.90" y="777.30" width="220.80" height="67.40" rx="8" ry="8" fill="#fff" stroke="#000" stroke-width="1.8"/>
<polyline points="545.4,801.4 556.8,791.4 568.2,801.4" fill="none" stroke="#000" stroke-width="2"/>
<text class="mu" transform="translate(545.4,822.0) scale(1.15,1)">μ</text>
<text class="sub" x="567.0" y="830.3">mean</text>
<text class="eq" x="637.4" y="828.1">=</text>
<text class="lb" x="666.5" y="823.8">6.74</text>
<line x1="1048.0" x2="956.2" y1="782.9" y2="782.9" stroke="#000" stroke-width="3.8" stroke-dasharray="6 9.5 17.5 10"/>
<rect x="1047.90" y="749.00" width="220.80" height="67.40" rx="8" ry="8" fill="#fff" stroke="#000" stroke-width="1.8"/>
<polyline points="1062.4,773.1 1073.8,763.1 1085.2,773.1" fill="none" stroke="#000" stroke-width="2"/>
<text class="mu" transform="translate(1062.4,793.7) scale(1.15,1)">μ</text>
<text class="sub" x="1084.0" y="802.0">mean</text>
<text class="eq" x="1154.4" y="799.8">=</text>
<text class="lb" x="1183.5" y="795.5">6.85</text>
<line x1="1543.2" x2="1473.2" y1="725.9" y2="725.9" stroke="#000" stroke-width="3.8" stroke-dasharray="6 9.5 17.5 10"/>
<rect x="1543.10" y="691.80" width="220.80" height="67.40" rx="8" ry="8" fill="#fff" stroke="#000" stroke-width="1.8"/>
<polyline points="1557.6,715.9 1569.0,705.9 1580.4,715.9" fill="none" stroke="#000" stroke-width="2"/>
<text class="mu" transform="translate(1557.6,736.5) scale(1.15,1)">μ</text>
<text class="sub" x="1579.2" y="744.8">mean</text>
<text class="eq" x="1649.6" y="742.6">=</text>
<text class="lb" x="1678.7" y="738.3">7.09</text>
<g stroke="#333" stroke-width="3.9">
<line x1="114.0" x2="124.0" y1="988.02" y2="988.02"/>
<line x1="114.0" x2="124.0" y1="746.99" y2="746.99"/>
<line x1="114.0" x2="124.0" y1="505.96" y2="505.96"/>
<line x1="114.0" x2="124.0" y1="264.93" y2="264.93"/>
<line x1="114.0" x2="124.0" y1="23.90" y2="23.90"/>
<line x1="435.0" x2="435.0" y1="1193.0" y2="1203.0"/>
<line x1="952.0" x2="952.0" y1="1193.0" y2="1203.0"/>
<line x1="1469.0" x2="1469.0" y1="1193.0" y2="1203.0"/>
</g>
<text class="ax" x="106" y="1001.4" text-anchor="end">6</text>
<text class="ax" x="106" y="760.4" text-anchor="end">7</text>
<text class="ax" x="106" y="519.4" text-anchor="end">8</text>
<text class="ax" x="106" y="278.3" text-anchor="end">9</text>
<text class="ax" x="106" y="37.3" text-anchor="end">10</text>
<text class="ax" x="434.1" y="1236.5" text-anchor="middle" textLength="107.4" lengthAdjust="spacing">Healthy</text>
<text class="ax" x="435.0" y="1272.5" text-anchor="middle">(n = 178)</text>
<text class="ax" x="951.1" y="1236.5" text-anchor="middle" textLength="124.6" lengthAdjust="spacing">Adjacent</text>
<text class="ax" x="952.0" y="1272.5" text-anchor="middle">(n = 115)</text>
<text class="ax" x="1469.0" y="1236.5" text-anchor="middle">Case</text>
<text class="ax" x="1469.0" y="1272.5" text-anchor="middle">(n = 1,076)</text>
<text class="ttl" transform="translate(52.1,606) rotate(-90)" text-anchor="middle" textLength="544" lengthAdjust="spacing">Molecule Expression (log2)</text>
</svg></body></html>
